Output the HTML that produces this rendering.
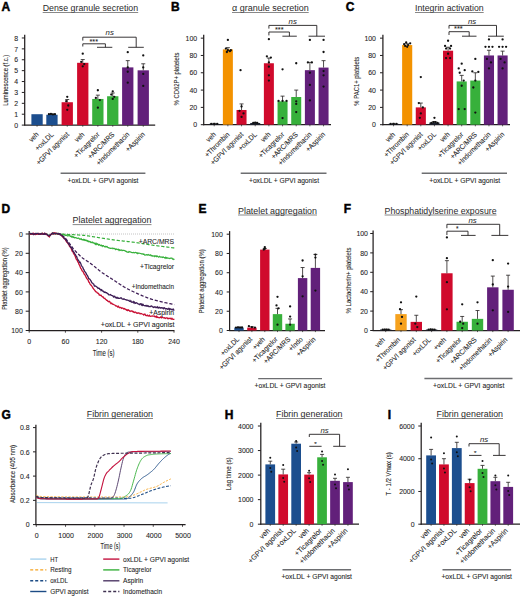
<!DOCTYPE html>
<html><head><meta charset="utf-8"><style>
html,body{margin:0;padding:0;background:#fff;}
svg{display:block;}
text{font-family:"Liberation Sans",sans-serif;}
</style></head><body>
<svg width="520" height="596" viewBox="0 0 520 596">
<rect width="520" height="596" fill="#fff"/>
<text x="1.50" y="11.00" font-size="12" font-weight="bold" fill="#000" stroke="#000" stroke-width="0.45">A</text>
<text x="42.70" y="11.00" font-size="8.9" font-weight="normal" fill="#2a2a2a" textLength="95.5" lengthAdjust="spacingAndGlyphs">Dense granule secretion</text>
<line x1="42.70" y1="12.50" x2="138.20" y2="12.50" stroke="#555" stroke-width="0.7"/>
<line x1="24.70" y1="125.60" x2="24.70" y2="34.80" stroke="#231f20" stroke-width="1.25"/>
<line x1="21.80" y1="125.10" x2="24.70" y2="125.10" stroke="#231f20" stroke-width="1.0"/>
<text x="18.20" y="127.80" font-size="7.5600000000000005" text-anchor="end" fill="#1e1e1e" transform="translate(18.20 127.80) scale(0.92 1) translate(-18.20 -127.80)" stroke="#1e1e1e" stroke-width="0.08">0</text>
<line x1="21.80" y1="114.21" x2="24.70" y2="114.21" stroke="#231f20" stroke-width="1.0"/>
<text x="18.20" y="116.91" font-size="7.5600000000000005" text-anchor="end" fill="#1e1e1e" transform="translate(18.20 116.91) scale(0.92 1) translate(-18.20 -116.91)" stroke="#1e1e1e" stroke-width="0.08">1</text>
<line x1="21.80" y1="103.32" x2="24.70" y2="103.32" stroke="#231f20" stroke-width="1.0"/>
<text x="18.20" y="106.02" font-size="7.5600000000000005" text-anchor="end" fill="#1e1e1e" transform="translate(18.20 106.02) scale(0.92 1) translate(-18.20 -106.02)" stroke="#1e1e1e" stroke-width="0.08">2</text>
<line x1="21.80" y1="92.43" x2="24.70" y2="92.43" stroke="#231f20" stroke-width="1.0"/>
<text x="18.20" y="95.13" font-size="7.5600000000000005" text-anchor="end" fill="#1e1e1e" transform="translate(18.20 95.13) scale(0.92 1) translate(-18.20 -95.13)" stroke="#1e1e1e" stroke-width="0.08">3</text>
<line x1="21.80" y1="81.54" x2="24.70" y2="81.54" stroke="#231f20" stroke-width="1.0"/>
<text x="18.20" y="84.24" font-size="7.5600000000000005" text-anchor="end" fill="#1e1e1e" transform="translate(18.20 84.24) scale(0.92 1) translate(-18.20 -84.24)" stroke="#1e1e1e" stroke-width="0.08">4</text>
<line x1="21.80" y1="70.65" x2="24.70" y2="70.65" stroke="#231f20" stroke-width="1.0"/>
<text x="18.20" y="73.35" font-size="7.5600000000000005" text-anchor="end" fill="#1e1e1e" transform="translate(18.20 73.35) scale(0.92 1) translate(-18.20 -73.35)" stroke="#1e1e1e" stroke-width="0.08">5</text>
<line x1="21.80" y1="59.76" x2="24.70" y2="59.76" stroke="#231f20" stroke-width="1.0"/>
<text x="18.20" y="62.46" font-size="7.5600000000000005" text-anchor="end" fill="#1e1e1e" transform="translate(18.20 62.46) scale(0.92 1) translate(-18.20 -62.46)" stroke="#1e1e1e" stroke-width="0.08">6</text>
<line x1="21.80" y1="48.87" x2="24.70" y2="48.87" stroke="#231f20" stroke-width="1.0"/>
<text x="18.20" y="51.57" font-size="7.5600000000000005" text-anchor="end" fill="#1e1e1e" transform="translate(18.20 51.57) scale(0.92 1) translate(-18.20 -51.57)" stroke="#1e1e1e" stroke-width="0.08">7</text>
<line x1="21.80" y1="37.98" x2="24.70" y2="37.98" stroke="#231f20" stroke-width="1.0"/>
<text x="18.20" y="40.68" font-size="7.5600000000000005" text-anchor="end" fill="#1e1e1e" transform="translate(18.20 40.68) scale(0.92 1) translate(-18.20 -40.68)" stroke="#1e1e1e" stroke-width="0.08">8</text>
<line x1="24.20" y1="125.10" x2="155.20" y2="125.10" stroke="#231f20" stroke-width="1.25"/>
<rect x="31.40" y="114.21" width="11.30" height="10.89" fill="#1c4e8e"/>
<rect x="46.30" y="114.75" width="11.30" height="10.35" fill="#1c4e8e"/>
<rect x="61.60" y="102.23" width="11.30" height="22.87" fill="#d00a2c"/>
<rect x="77.10" y="62.81" width="11.30" height="62.29" fill="#d00a2c"/>
<rect x="92.20" y="98.96" width="11.30" height="26.14" fill="#37b03b"/>
<rect x="107.10" y="96.24" width="11.30" height="28.86" fill="#37b03b"/>
<rect x="122.10" y="67.38" width="11.30" height="57.72" fill="#62207a"/>
<rect x="137.60" y="70.32" width="11.30" height="54.78" fill="#62207a"/>
<line x1="51.95" y1="114.75" x2="51.95" y2="114.21" stroke="#231f20" stroke-width="0.8"/>
<line x1="49.95" y1="114.21" x2="53.95" y2="114.21" stroke="#231f20" stroke-width="0.8"/>
<line x1="67.25" y1="102.23" x2="67.25" y2="99.51" stroke="#231f20" stroke-width="0.8"/>
<line x1="65.25" y1="99.51" x2="69.25" y2="99.51" stroke="#231f20" stroke-width="0.8"/>
<line x1="82.75" y1="62.81" x2="82.75" y2="59.54" stroke="#231f20" stroke-width="0.8"/>
<line x1="80.75" y1="59.54" x2="84.75" y2="59.54" stroke="#231f20" stroke-width="0.8"/>
<line x1="97.85" y1="98.96" x2="97.85" y2="95.15" stroke="#231f20" stroke-width="0.8"/>
<line x1="95.85" y1="95.15" x2="99.85" y2="95.15" stroke="#231f20" stroke-width="0.8"/>
<line x1="112.75" y1="96.24" x2="112.75" y2="92.97" stroke="#231f20" stroke-width="0.8"/>
<line x1="110.75" y1="92.97" x2="114.75" y2="92.97" stroke="#231f20" stroke-width="0.8"/>
<line x1="127.75" y1="67.38" x2="127.75" y2="60.63" stroke="#231f20" stroke-width="0.8"/>
<line x1="125.75" y1="60.63" x2="129.75" y2="60.63" stroke="#231f20" stroke-width="0.8"/>
<line x1="143.25" y1="70.32" x2="143.25" y2="63.79" stroke="#231f20" stroke-width="0.8"/>
<line x1="141.25" y1="63.79" x2="145.25" y2="63.79" stroke="#231f20" stroke-width="0.8"/>
<circle cx="48.95" cy="114.21" r="1.15" fill="#111"/>
<circle cx="50.95" cy="113.99" r="1.15" fill="#111"/>
<circle cx="52.95" cy="114.43" r="1.15" fill="#111"/>
<circle cx="54.95" cy="114.21" r="1.15" fill="#111"/>
<circle cx="67.25" cy="96.79" r="1.15" fill="#111"/>
<circle cx="66.25" cy="101.14" r="1.15" fill="#111"/>
<circle cx="68.25" cy="105.50" r="1.15" fill="#111"/>
<circle cx="67.25" cy="109.85" r="1.15" fill="#111"/>
<circle cx="82.75" cy="53.66" r="1.15" fill="#111"/>
<circle cx="81.25" cy="61.94" r="1.15" fill="#111"/>
<circle cx="84.25" cy="64.12" r="1.15" fill="#111"/>
<circle cx="82.75" cy="66.29" r="1.15" fill="#111"/>
<circle cx="97.85" cy="90.25" r="1.15" fill="#111"/>
<circle cx="95.85" cy="97.88" r="1.15" fill="#111"/>
<circle cx="99.85" cy="100.05" r="1.15" fill="#111"/>
<circle cx="97.85" cy="107.68" r="1.15" fill="#111"/>
<circle cx="112.75" cy="91.34" r="1.15" fill="#111"/>
<circle cx="111.25" cy="94.61" r="1.15" fill="#111"/>
<circle cx="114.25" cy="96.79" r="1.15" fill="#111"/>
<circle cx="112.75" cy="98.96" r="1.15" fill="#111"/>
<circle cx="127.75" cy="52.14" r="1.15" fill="#111"/>
<circle cx="127.75" cy="67.38" r="1.15" fill="#111"/>
<circle cx="127.75" cy="71.74" r="1.15" fill="#111"/>
<circle cx="127.75" cy="82.63" r="1.15" fill="#111"/>
<circle cx="143.25" cy="55.40" r="1.15" fill="#111"/>
<circle cx="143.25" cy="67.38" r="1.15" fill="#111"/>
<circle cx="143.25" cy="73.92" r="1.15" fill="#111"/>
<circle cx="143.25" cy="85.90" r="1.15" fill="#111"/>
<line x1="37.05" y1="125.10" x2="37.05" y2="126.70" stroke="#231f20" stroke-width="0.7"/>
<line x1="51.95" y1="125.10" x2="51.95" y2="126.70" stroke="#231f20" stroke-width="0.7"/>
<line x1="67.25" y1="125.10" x2="67.25" y2="126.70" stroke="#231f20" stroke-width="0.7"/>
<line x1="82.75" y1="125.10" x2="82.75" y2="126.70" stroke="#231f20" stroke-width="0.7"/>
<line x1="97.85" y1="125.10" x2="97.85" y2="126.70" stroke="#231f20" stroke-width="0.7"/>
<line x1="112.75" y1="125.10" x2="112.75" y2="126.70" stroke="#231f20" stroke-width="0.7"/>
<line x1="127.75" y1="125.10" x2="127.75" y2="126.70" stroke="#231f20" stroke-width="0.7"/>
<line x1="143.25" y1="125.10" x2="143.25" y2="126.70" stroke="#231f20" stroke-width="0.7"/>
<text x="39.25" y="135.00" font-size="7.25" text-anchor="end" fill="#1e1e1e" stroke="#1e1e1e" stroke-width="0.08" transform="rotate(-45 39.25 135.00) translate(39.25 135.00) scale(0.92 1) translate(-39.25 -135.00)">veh</text>
<text x="54.15" y="135.00" font-size="7.25" text-anchor="end" fill="#1e1e1e" stroke="#1e1e1e" stroke-width="0.08" transform="rotate(-45 54.15 135.00) translate(54.15 135.00) scale(0.92 1) translate(-54.15 -135.00)">+oxLDL</text>
<text x="69.45" y="135.00" font-size="7.25" text-anchor="end" fill="#1e1e1e" stroke="#1e1e1e" stroke-width="0.08" transform="rotate(-45 69.45 135.00) translate(69.45 135.00) scale(0.92 1) translate(-69.45 -135.00)">+GPVI agonist</text>
<text x="84.95" y="135.00" font-size="7.25" text-anchor="end" fill="#1e1e1e" stroke="#1e1e1e" stroke-width="0.08" transform="rotate(-45 84.95 135.00) translate(84.95 135.00) scale(0.92 1) translate(-84.95 -135.00)">veh</text>
<text x="100.05" y="135.00" font-size="7.25" text-anchor="end" fill="#1e1e1e" stroke="#1e1e1e" stroke-width="0.08" transform="rotate(-45 100.05 135.00) translate(100.05 135.00) scale(0.92 1) translate(-100.05 -135.00)">+Ticagrelor</text>
<text x="114.95" y="135.00" font-size="7.25" text-anchor="end" fill="#1e1e1e" stroke="#1e1e1e" stroke-width="0.08" transform="rotate(-45 114.95 135.00) translate(114.95 135.00) scale(0.92 1) translate(-114.95 -135.00)">+ARC/MRS</text>
<text x="129.95" y="135.00" font-size="7.25" text-anchor="end" fill="#1e1e1e" stroke="#1e1e1e" stroke-width="0.08" transform="rotate(-45 129.95 135.00) translate(129.95 135.00) scale(0.92 1) translate(-129.95 -135.00)">+Indomethacin</text>
<text x="145.45" y="135.00" font-size="7.25" text-anchor="end" fill="#1e1e1e" stroke="#1e1e1e" stroke-width="0.08" transform="rotate(-45 145.45 135.00) translate(145.45 135.00) scale(0.92 1) translate(-145.45 -135.00)">+Aspirin</text>
<line x1="60.60" y1="173.20" x2="145.40" y2="173.20" stroke="#6d6e71" stroke-width="1.5"/>
<text x="103.00" y="182.80" font-size="6.8" text-anchor="middle" fill="#1e1e1e" textLength="71" lengthAdjust="spacingAndGlyphs" stroke="#1e1e1e" stroke-width="0.08">+oxLDL + GPVI agonist</text>
<path d="M82.8,40.6 V37.2 H136.2 V47.3" stroke="#231f20" stroke-width="0.9" fill="none"/>
<text x="109.70" y="35.00" font-size="7.8" text-anchor="middle" font-weight="normal" font-style="italic" fill="#1e1e1e">ns</text>
<path d="M82.8,46.5 V43.8 H105.4 V47.3" stroke="#231f20" stroke-width="0.9" fill="none"/>
<text x="93.80" y="43.60" font-size="7.4" text-anchor="middle" fill="#1e1e1e" stroke="#1e1e1e" stroke-width="0.08">***</text>
<line x1="97.00" y1="47.30" x2="112.30" y2="47.30" stroke="#231f20" stroke-width="0.9"/>
<line x1="128.20" y1="47.30" x2="143.80" y2="47.30" stroke="#231f20" stroke-width="0.9"/>
<text x="8.40" y="80.20" font-size="6.8" text-anchor="middle" fill="#1e1e1e" transform="rotate(-90 8.40 80.20)" textLength="51" lengthAdjust="spacingAndGlyphs" stroke="#1e1e1e" stroke-width="0.08">Luminescence (f.c.)</text>
<text x="171.00" y="11.00" font-size="12" font-weight="bold" fill="#000" stroke="#000" stroke-width="0.45">B</text>
<text x="232.00" y="11.00" font-size="8.9" font-weight="normal" fill="#2a2a2a" textLength="76.7" lengthAdjust="spacingAndGlyphs">α granule secretion</text>
<line x1="232.00" y1="12.50" x2="308.70" y2="12.50" stroke="#555" stroke-width="0.7"/>
<line x1="203.70" y1="125.20" x2="203.70" y2="34.70" stroke="#231f20" stroke-width="1.25"/>
<line x1="200.80" y1="124.70" x2="203.70" y2="124.70" stroke="#231f20" stroke-width="1.0"/>
<text x="197.20" y="127.40" font-size="7.5600000000000005" text-anchor="end" fill="#1e1e1e" transform="translate(197.20 127.40) scale(0.92 1) translate(-197.20 -127.40)" stroke="#1e1e1e" stroke-width="0.08">0</text>
<line x1="200.80" y1="107.39" x2="203.70" y2="107.39" stroke="#231f20" stroke-width="1.0"/>
<text x="197.20" y="110.09" font-size="7.5600000000000005" text-anchor="end" fill="#1e1e1e" transform="translate(197.20 110.09) scale(0.92 1) translate(-197.20 -110.09)" stroke="#1e1e1e" stroke-width="0.08">20</text>
<line x1="200.80" y1="90.08" x2="203.70" y2="90.08" stroke="#231f20" stroke-width="1.0"/>
<text x="197.20" y="92.78" font-size="7.5600000000000005" text-anchor="end" fill="#1e1e1e" transform="translate(197.20 92.78) scale(0.92 1) translate(-197.20 -92.78)" stroke="#1e1e1e" stroke-width="0.08">40</text>
<line x1="200.80" y1="72.77" x2="203.70" y2="72.77" stroke="#231f20" stroke-width="1.0"/>
<text x="197.20" y="75.47" font-size="7.5600000000000005" text-anchor="end" fill="#1e1e1e" transform="translate(197.20 75.47) scale(0.92 1) translate(-197.20 -75.47)" stroke="#1e1e1e" stroke-width="0.08">60</text>
<line x1="200.80" y1="55.46" x2="203.70" y2="55.46" stroke="#231f20" stroke-width="1.0"/>
<text x="197.20" y="58.16" font-size="7.5600000000000005" text-anchor="end" fill="#1e1e1e" transform="translate(197.20 58.16) scale(0.92 1) translate(-197.20 -58.16)" stroke="#1e1e1e" stroke-width="0.08">80</text>
<line x1="200.80" y1="38.15" x2="203.70" y2="38.15" stroke="#231f20" stroke-width="1.0"/>
<text x="197.20" y="40.85" font-size="7.5600000000000005" text-anchor="end" fill="#1e1e1e" transform="translate(197.20 40.85) scale(0.92 1) translate(-197.20 -40.85)" stroke="#1e1e1e" stroke-width="0.08">100</text>
<line x1="203.20" y1="124.70" x2="331.00" y2="124.70" stroke="#231f20" stroke-width="1.25"/>
<rect x="209.20" y="123.83" width="10.00" height="0.87" fill="#1d2333"/>
<rect x="222.87" y="49.40" width="10.00" height="75.30" fill="#f39200"/>
<rect x="236.54" y="109.99" width="10.00" height="14.71" fill="#d00a2c"/>
<rect x="250.21" y="122.97" width="10.00" height="1.73" fill="#1d2333"/>
<rect x="263.88" y="63.25" width="10.00" height="61.45" fill="#d00a2c"/>
<rect x="277.55" y="101.33" width="10.00" height="23.37" fill="#37b03b"/>
<rect x="291.22" y="97.00" width="10.00" height="27.70" fill="#37b03b"/>
<rect x="304.89" y="70.17" width="10.00" height="54.53" fill="#62207a"/>
<rect x="318.56" y="67.58" width="10.00" height="57.12" fill="#62207a"/>
<line x1="214.20" y1="123.83" x2="214.20" y2="123.40" stroke="#231f20" stroke-width="0.8"/>
<line x1="212.20" y1="123.40" x2="216.20" y2="123.40" stroke="#231f20" stroke-width="0.8"/>
<line x1="227.87" y1="49.40" x2="227.87" y2="47.67" stroke="#231f20" stroke-width="0.8"/>
<line x1="225.87" y1="47.67" x2="229.87" y2="47.67" stroke="#231f20" stroke-width="0.8"/>
<line x1="241.54" y1="109.99" x2="241.54" y2="103.93" stroke="#231f20" stroke-width="0.8"/>
<line x1="239.54" y1="103.93" x2="243.54" y2="103.93" stroke="#231f20" stroke-width="0.8"/>
<line x1="255.21" y1="122.97" x2="255.21" y2="122.45" stroke="#231f20" stroke-width="0.8"/>
<line x1="253.21" y1="122.45" x2="257.21" y2="122.45" stroke="#231f20" stroke-width="0.8"/>
<line x1="268.88" y1="63.25" x2="268.88" y2="58.06" stroke="#231f20" stroke-width="0.8"/>
<line x1="266.88" y1="58.06" x2="270.88" y2="58.06" stroke="#231f20" stroke-width="0.8"/>
<line x1="282.55" y1="101.33" x2="282.55" y2="96.14" stroke="#231f20" stroke-width="0.8"/>
<line x1="280.55" y1="96.14" x2="284.55" y2="96.14" stroke="#231f20" stroke-width="0.8"/>
<line x1="296.22" y1="97.00" x2="296.22" y2="90.08" stroke="#231f20" stroke-width="0.8"/>
<line x1="294.22" y1="90.08" x2="298.22" y2="90.08" stroke="#231f20" stroke-width="0.8"/>
<line x1="309.89" y1="70.17" x2="309.89" y2="62.38" stroke="#231f20" stroke-width="0.8"/>
<line x1="307.89" y1="62.38" x2="311.89" y2="62.38" stroke="#231f20" stroke-width="0.8"/>
<line x1="323.56" y1="67.58" x2="323.56" y2="60.65" stroke="#231f20" stroke-width="0.8"/>
<line x1="321.56" y1="60.65" x2="325.56" y2="60.65" stroke="#231f20" stroke-width="0.8"/>
<circle cx="211.20" cy="123.83" r="1.15" fill="#111"/>
<circle cx="214.20" cy="123.83" r="1.15" fill="#111"/>
<circle cx="217.20" cy="123.83" r="1.15" fill="#111"/>
<circle cx="227.87" cy="39.88" r="1.15" fill="#111"/>
<circle cx="225.87" cy="48.54" r="1.15" fill="#111"/>
<circle cx="227.87" cy="50.27" r="1.15" fill="#111"/>
<circle cx="229.87" cy="51.13" r="1.15" fill="#111"/>
<circle cx="226.87" cy="52.00" r="1.15" fill="#111"/>
<circle cx="230.87" cy="50.27" r="1.15" fill="#111"/>
<circle cx="240.54" cy="70.17" r="1.15" fill="#111"/>
<circle cx="241.54" cy="106.52" r="1.15" fill="#111"/>
<circle cx="239.54" cy="110.85" r="1.15" fill="#111"/>
<circle cx="243.54" cy="113.45" r="1.15" fill="#111"/>
<circle cx="241.54" cy="116.91" r="1.15" fill="#111"/>
<circle cx="253.21" cy="122.97" r="1.15" fill="#111"/>
<circle cx="257.21" cy="122.97" r="1.15" fill="#111"/>
<circle cx="255.21" cy="122.54" r="1.15" fill="#111"/>
<circle cx="268.88" cy="39.19" r="1.15" fill="#111"/>
<circle cx="266.88" cy="56.33" r="1.15" fill="#111"/>
<circle cx="270.88" cy="57.62" r="1.15" fill="#111"/>
<circle cx="268.88" cy="62.38" r="1.15" fill="#111"/>
<circle cx="268.88" cy="66.71" r="1.15" fill="#111"/>
<circle cx="268.88" cy="75.37" r="1.15" fill="#111"/>
<circle cx="268.88" cy="80.56" r="1.15" fill="#111"/>
<circle cx="282.55" cy="69.31" r="1.15" fill="#111"/>
<circle cx="278.55" cy="100.90" r="1.15" fill="#111"/>
<circle cx="282.55" cy="100.90" r="1.15" fill="#111"/>
<circle cx="286.55" cy="100.90" r="1.15" fill="#111"/>
<circle cx="282.55" cy="118.04" r="1.15" fill="#111"/>
<circle cx="296.22" cy="63.25" r="1.15" fill="#111"/>
<circle cx="296.22" cy="101.33" r="1.15" fill="#111"/>
<circle cx="296.22" cy="103.93" r="1.15" fill="#111"/>
<circle cx="296.22" cy="112.06" r="1.15" fill="#111"/>
<circle cx="309.89" cy="39.88" r="1.15" fill="#111"/>
<circle cx="307.89" cy="62.38" r="1.15" fill="#111"/>
<circle cx="311.89" cy="62.38" r="1.15" fill="#111"/>
<circle cx="309.89" cy="72.77" r="1.15" fill="#111"/>
<circle cx="309.89" cy="84.89" r="1.15" fill="#111"/>
<circle cx="309.89" cy="100.47" r="1.15" fill="#111"/>
<circle cx="323.56" cy="39.88" r="1.15" fill="#111"/>
<circle cx="323.56" cy="52.00" r="1.15" fill="#111"/>
<circle cx="323.56" cy="71.04" r="1.15" fill="#111"/>
<circle cx="323.56" cy="75.37" r="1.15" fill="#111"/>
<circle cx="323.56" cy="86.62" r="1.15" fill="#111"/>
<line x1="214.20" y1="124.70" x2="214.20" y2="126.30" stroke="#231f20" stroke-width="0.7"/>
<line x1="227.87" y1="124.70" x2="227.87" y2="126.30" stroke="#231f20" stroke-width="0.7"/>
<line x1="241.54" y1="124.70" x2="241.54" y2="126.30" stroke="#231f20" stroke-width="0.7"/>
<line x1="255.21" y1="124.70" x2="255.21" y2="126.30" stroke="#231f20" stroke-width="0.7"/>
<line x1="268.88" y1="124.70" x2="268.88" y2="126.30" stroke="#231f20" stroke-width="0.7"/>
<line x1="282.55" y1="124.70" x2="282.55" y2="126.30" stroke="#231f20" stroke-width="0.7"/>
<line x1="296.22" y1="124.70" x2="296.22" y2="126.30" stroke="#231f20" stroke-width="0.7"/>
<line x1="309.89" y1="124.70" x2="309.89" y2="126.30" stroke="#231f20" stroke-width="0.7"/>
<line x1="323.56" y1="124.70" x2="323.56" y2="126.30" stroke="#231f20" stroke-width="0.7"/>
<text x="216.40" y="135.00" font-size="7.25" text-anchor="end" fill="#1e1e1e" stroke="#1e1e1e" stroke-width="0.08" transform="rotate(-45 216.40 135.00) translate(216.40 135.00) scale(0.92 1) translate(-216.40 -135.00)">veh</text>
<text x="230.07" y="135.00" font-size="7.25" text-anchor="end" fill="#1e1e1e" stroke="#1e1e1e" stroke-width="0.08" transform="rotate(-45 230.07 135.00) translate(230.07 135.00) scale(0.92 1) translate(-230.07 -135.00)">+Thrombin</text>
<text x="243.74" y="135.00" font-size="7.25" text-anchor="end" fill="#1e1e1e" stroke="#1e1e1e" stroke-width="0.08" transform="rotate(-45 243.74 135.00) translate(243.74 135.00) scale(0.92 1) translate(-243.74 -135.00)">+GPVI agonist</text>
<text x="257.41" y="135.00" font-size="7.25" text-anchor="end" fill="#1e1e1e" stroke="#1e1e1e" stroke-width="0.08" transform="rotate(-45 257.41 135.00) translate(257.41 135.00) scale(0.92 1) translate(-257.41 -135.00)">+oxLDL</text>
<text x="271.08" y="135.00" font-size="7.25" text-anchor="end" fill="#1e1e1e" stroke="#1e1e1e" stroke-width="0.08" transform="rotate(-45 271.08 135.00) translate(271.08 135.00) scale(0.92 1) translate(-271.08 -135.00)">veh</text>
<text x="284.75" y="135.00" font-size="7.25" text-anchor="end" fill="#1e1e1e" stroke="#1e1e1e" stroke-width="0.08" transform="rotate(-45 284.75 135.00) translate(284.75 135.00) scale(0.92 1) translate(-284.75 -135.00)">+Ticagrelor</text>
<text x="298.42" y="135.00" font-size="7.25" text-anchor="end" fill="#1e1e1e" stroke="#1e1e1e" stroke-width="0.08" transform="rotate(-45 298.42 135.00) translate(298.42 135.00) scale(0.92 1) translate(-298.42 -135.00)">+ARC/MRS</text>
<text x="312.09" y="135.00" font-size="7.25" text-anchor="end" fill="#1e1e1e" stroke="#1e1e1e" stroke-width="0.08" transform="rotate(-45 312.09 135.00) translate(312.09 135.00) scale(0.92 1) translate(-312.09 -135.00)">+Indomethacin</text>
<text x="325.76" y="135.00" font-size="7.25" text-anchor="end" fill="#1e1e1e" stroke="#1e1e1e" stroke-width="0.08" transform="rotate(-45 325.76 135.00) translate(325.76 135.00) scale(0.92 1) translate(-325.76 -135.00)">+Aspirin</text>
<line x1="240.70" y1="173.20" x2="326.50" y2="173.20" stroke="#6d6e71" stroke-width="1.5"/>
<text x="284.00" y="182.80" font-size="6.8" text-anchor="middle" fill="#1e1e1e" textLength="70" lengthAdjust="spacingAndGlyphs" stroke="#1e1e1e" stroke-width="0.08">+oxLDL + GPVI agonist</text>
<path d="M268.9,28.6 V25.4 H316.8 V36.2" stroke="#231f20" stroke-width="0.9" fill="none"/>
<text x="292.70" y="23.60" font-size="7.8" text-anchor="middle" font-weight="normal" font-style="italic" fill="#1e1e1e">ns</text>
<path d="M268.9,35.4 V32 H289.4 V36.2" stroke="#231f20" stroke-width="0.9" fill="none"/>
<text x="279.30" y="31.60" font-size="7.4" text-anchor="middle" fill="#1e1e1e" stroke="#1e1e1e" stroke-width="0.08">***</text>
<line x1="282.40" y1="36.20" x2="296.80" y2="36.20" stroke="#231f20" stroke-width="0.9"/>
<line x1="308.50" y1="36.20" x2="325.00" y2="36.20" stroke="#231f20" stroke-width="0.9"/>
<text x="179.40" y="79.00" font-size="6.8" text-anchor="middle" fill="#1e1e1e" transform="rotate(-90 179.40 79.00)" textLength="53" lengthAdjust="spacingAndGlyphs" stroke="#1e1e1e" stroke-width="0.08">% CD62P+ platelets</text>
<text x="345.70" y="11.00" font-size="12" font-weight="bold" fill="#000" stroke="#000" stroke-width="0.45">C</text>
<text x="415.00" y="11.00" font-size="8.9" font-weight="normal" fill="#2a2a2a" textLength="68.7" lengthAdjust="spacingAndGlyphs">Integrin activation</text>
<line x1="415.00" y1="12.50" x2="483.70" y2="12.50" stroke="#555" stroke-width="0.7"/>
<line x1="382.90" y1="125.20" x2="382.90" y2="34.70" stroke="#231f20" stroke-width="1.25"/>
<line x1="380.00" y1="124.70" x2="382.90" y2="124.70" stroke="#231f20" stroke-width="1.0"/>
<text x="376.00" y="127.40" font-size="7.5600000000000005" text-anchor="end" fill="#1e1e1e" transform="translate(376.00 127.40) scale(0.92 1) translate(-376.00 -127.40)" stroke="#1e1e1e" stroke-width="0.08">0</text>
<line x1="380.00" y1="107.39" x2="382.90" y2="107.39" stroke="#231f20" stroke-width="1.0"/>
<text x="376.00" y="110.09" font-size="7.5600000000000005" text-anchor="end" fill="#1e1e1e" transform="translate(376.00 110.09) scale(0.92 1) translate(-376.00 -110.09)" stroke="#1e1e1e" stroke-width="0.08">20</text>
<line x1="380.00" y1="90.08" x2="382.90" y2="90.08" stroke="#231f20" stroke-width="1.0"/>
<text x="376.00" y="92.78" font-size="7.5600000000000005" text-anchor="end" fill="#1e1e1e" transform="translate(376.00 92.78) scale(0.92 1) translate(-376.00 -92.78)" stroke="#1e1e1e" stroke-width="0.08">40</text>
<line x1="380.00" y1="72.77" x2="382.90" y2="72.77" stroke="#231f20" stroke-width="1.0"/>
<text x="376.00" y="75.47" font-size="7.5600000000000005" text-anchor="end" fill="#1e1e1e" transform="translate(376.00 75.47) scale(0.92 1) translate(-376.00 -75.47)" stroke="#1e1e1e" stroke-width="0.08">60</text>
<line x1="380.00" y1="55.46" x2="382.90" y2="55.46" stroke="#231f20" stroke-width="1.0"/>
<text x="376.00" y="58.16" font-size="7.5600000000000005" text-anchor="end" fill="#1e1e1e" transform="translate(376.00 58.16) scale(0.92 1) translate(-376.00 -58.16)" stroke="#1e1e1e" stroke-width="0.08">80</text>
<line x1="380.00" y1="38.15" x2="382.90" y2="38.15" stroke="#231f20" stroke-width="1.0"/>
<text x="376.00" y="40.85" font-size="7.5600000000000005" text-anchor="end" fill="#1e1e1e" transform="translate(376.00 40.85) scale(0.92 1) translate(-376.00 -40.85)" stroke="#1e1e1e" stroke-width="0.08">100</text>
<line x1="382.40" y1="124.70" x2="510.00" y2="124.70" stroke="#231f20" stroke-width="1.25"/>
<rect x="388.50" y="123.83" width="10.10" height="0.87" fill="#1d2333"/>
<rect x="402.13" y="45.07" width="10.10" height="79.63" fill="#f39200"/>
<rect x="415.76" y="107.39" width="10.10" height="17.31" fill="#d00a2c"/>
<rect x="429.39" y="122.54" width="10.10" height="2.16" fill="#1d2333"/>
<rect x="443.02" y="50.70" width="10.10" height="74.00" fill="#d00a2c"/>
<rect x="456.65" y="81.42" width="10.10" height="43.28" fill="#37b03b"/>
<rect x="470.28" y="80.56" width="10.10" height="44.14" fill="#37b03b"/>
<rect x="483.91" y="55.46" width="10.10" height="69.24" fill="#62207a"/>
<rect x="497.54" y="55.46" width="10.10" height="69.24" fill="#62207a"/>
<line x1="393.55" y1="123.83" x2="393.55" y2="123.40" stroke="#231f20" stroke-width="0.8"/>
<line x1="391.55" y1="123.40" x2="395.55" y2="123.40" stroke="#231f20" stroke-width="0.8"/>
<line x1="407.18" y1="45.07" x2="407.18" y2="43.78" stroke="#231f20" stroke-width="0.8"/>
<line x1="405.18" y1="43.78" x2="409.18" y2="43.78" stroke="#231f20" stroke-width="0.8"/>
<line x1="420.81" y1="107.39" x2="420.81" y2="103.06" stroke="#231f20" stroke-width="0.8"/>
<line x1="418.81" y1="103.06" x2="422.81" y2="103.06" stroke="#231f20" stroke-width="0.8"/>
<line x1="434.44" y1="122.54" x2="434.44" y2="121.67" stroke="#231f20" stroke-width="0.8"/>
<line x1="432.44" y1="121.67" x2="436.44" y2="121.67" stroke="#231f20" stroke-width="0.8"/>
<line x1="448.07" y1="50.70" x2="448.07" y2="47.24" stroke="#231f20" stroke-width="0.8"/>
<line x1="446.07" y1="47.24" x2="450.07" y2="47.24" stroke="#231f20" stroke-width="0.8"/>
<line x1="461.70" y1="81.42" x2="461.70" y2="75.37" stroke="#231f20" stroke-width="0.8"/>
<line x1="459.70" y1="75.37" x2="463.70" y2="75.37" stroke="#231f20" stroke-width="0.8"/>
<line x1="475.33" y1="80.56" x2="475.33" y2="72.77" stroke="#231f20" stroke-width="0.8"/>
<line x1="473.33" y1="72.77" x2="477.33" y2="72.77" stroke="#231f20" stroke-width="0.8"/>
<line x1="488.96" y1="55.46" x2="488.96" y2="50.27" stroke="#231f20" stroke-width="0.8"/>
<line x1="486.96" y1="50.27" x2="490.96" y2="50.27" stroke="#231f20" stroke-width="0.8"/>
<line x1="502.59" y1="55.46" x2="502.59" y2="51.13" stroke="#231f20" stroke-width="0.8"/>
<line x1="500.59" y1="51.13" x2="504.59" y2="51.13" stroke="#231f20" stroke-width="0.8"/>
<circle cx="390.55" cy="123.83" r="1.15" fill="#111"/>
<circle cx="393.55" cy="123.83" r="1.15" fill="#111"/>
<circle cx="396.55" cy="123.83" r="1.15" fill="#111"/>
<circle cx="404.18" cy="44.21" r="1.15" fill="#111"/>
<circle cx="406.18" cy="42.48" r="1.15" fill="#111"/>
<circle cx="408.18" cy="45.07" r="1.15" fill="#111"/>
<circle cx="410.18" cy="43.34" r="1.15" fill="#111"/>
<circle cx="407.18" cy="46.80" r="1.15" fill="#111"/>
<circle cx="405.18" cy="45.94" r="1.15" fill="#111"/>
<circle cx="420.81" cy="77.10" r="1.15" fill="#111"/>
<circle cx="418.81" cy="103.06" r="1.15" fill="#111"/>
<circle cx="422.81" cy="107.39" r="1.15" fill="#111"/>
<circle cx="420.81" cy="113.45" r="1.15" fill="#111"/>
<circle cx="419.81" cy="117.78" r="1.15" fill="#111"/>
<circle cx="431.44" cy="122.97" r="1.15" fill="#111"/>
<circle cx="434.44" cy="117.78" r="1.15" fill="#111"/>
<circle cx="437.44" cy="122.97" r="1.15" fill="#111"/>
<circle cx="433.44" cy="122.10" r="1.15" fill="#111"/>
<circle cx="435.44" cy="122.10" r="1.15" fill="#111"/>
<circle cx="448.07" cy="40.75" r="1.15" fill="#111"/>
<circle cx="445.07" cy="45.94" r="1.15" fill="#111"/>
<circle cx="451.07" cy="45.94" r="1.15" fill="#111"/>
<circle cx="446.07" cy="48.54" r="1.15" fill="#111"/>
<circle cx="450.07" cy="48.54" r="1.15" fill="#111"/>
<circle cx="448.07" cy="53.73" r="1.15" fill="#111"/>
<circle cx="446.07" cy="58.06" r="1.15" fill="#111"/>
<circle cx="450.07" cy="58.06" r="1.15" fill="#111"/>
<circle cx="461.70" cy="63.68" r="1.15" fill="#111"/>
<circle cx="458.70" cy="68.44" r="1.15" fill="#111"/>
<circle cx="464.70" cy="70.17" r="1.15" fill="#111"/>
<circle cx="459.70" cy="72.77" r="1.15" fill="#111"/>
<circle cx="463.70" cy="80.56" r="1.15" fill="#111"/>
<circle cx="461.70" cy="85.75" r="1.15" fill="#111"/>
<circle cx="458.70" cy="109.12" r="1.15" fill="#111"/>
<circle cx="464.70" cy="109.12" r="1.15" fill="#111"/>
<circle cx="475.33" cy="58.92" r="1.15" fill="#111"/>
<circle cx="472.33" cy="71.47" r="1.15" fill="#111"/>
<circle cx="478.33" cy="71.90" r="1.15" fill="#111"/>
<circle cx="475.33" cy="80.56" r="1.15" fill="#111"/>
<circle cx="473.33" cy="87.48" r="1.15" fill="#111"/>
<circle cx="475.33" cy="112.58" r="1.15" fill="#111"/>
<circle cx="488.96" cy="39.45" r="1.15" fill="#111"/>
<circle cx="485.46" cy="46.80" r="1.15" fill="#111"/>
<circle cx="488.96" cy="46.80" r="1.15" fill="#111"/>
<circle cx="492.46" cy="46.80" r="1.15" fill="#111"/>
<circle cx="486.96" cy="58.92" r="1.15" fill="#111"/>
<circle cx="490.96" cy="62.38" r="1.15" fill="#111"/>
<circle cx="488.96" cy="68.44" r="1.15" fill="#111"/>
<circle cx="502.59" cy="39.45" r="1.15" fill="#111"/>
<circle cx="499.09" cy="46.80" r="1.15" fill="#111"/>
<circle cx="502.59" cy="46.80" r="1.15" fill="#111"/>
<circle cx="506.09" cy="46.80" r="1.15" fill="#111"/>
<circle cx="500.59" cy="58.92" r="1.15" fill="#111"/>
<circle cx="504.59" cy="62.38" r="1.15" fill="#111"/>
<circle cx="502.59" cy="68.44" r="1.15" fill="#111"/>
<line x1="393.55" y1="124.70" x2="393.55" y2="126.30" stroke="#231f20" stroke-width="0.7"/>
<line x1="407.18" y1="124.70" x2="407.18" y2="126.30" stroke="#231f20" stroke-width="0.7"/>
<line x1="420.81" y1="124.70" x2="420.81" y2="126.30" stroke="#231f20" stroke-width="0.7"/>
<line x1="434.44" y1="124.70" x2="434.44" y2="126.30" stroke="#231f20" stroke-width="0.7"/>
<line x1="448.07" y1="124.70" x2="448.07" y2="126.30" stroke="#231f20" stroke-width="0.7"/>
<line x1="461.70" y1="124.70" x2="461.70" y2="126.30" stroke="#231f20" stroke-width="0.7"/>
<line x1="475.33" y1="124.70" x2="475.33" y2="126.30" stroke="#231f20" stroke-width="0.7"/>
<line x1="488.96" y1="124.70" x2="488.96" y2="126.30" stroke="#231f20" stroke-width="0.7"/>
<line x1="502.59" y1="124.70" x2="502.59" y2="126.30" stroke="#231f20" stroke-width="0.7"/>
<text x="395.75" y="135.00" font-size="7.25" text-anchor="end" fill="#1e1e1e" stroke="#1e1e1e" stroke-width="0.08" transform="rotate(-45 395.75 135.00) translate(395.75 135.00) scale(0.92 1) translate(-395.75 -135.00)">veh</text>
<text x="409.38" y="135.00" font-size="7.25" text-anchor="end" fill="#1e1e1e" stroke="#1e1e1e" stroke-width="0.08" transform="rotate(-45 409.38 135.00) translate(409.38 135.00) scale(0.92 1) translate(-409.38 -135.00)">+Thrombin</text>
<text x="423.01" y="135.00" font-size="7.25" text-anchor="end" fill="#1e1e1e" stroke="#1e1e1e" stroke-width="0.08" transform="rotate(-45 423.01 135.00) translate(423.01 135.00) scale(0.92 1) translate(-423.01 -135.00)">+GPVI agonist</text>
<text x="436.64" y="135.00" font-size="7.25" text-anchor="end" fill="#1e1e1e" stroke="#1e1e1e" stroke-width="0.08" transform="rotate(-45 436.64 135.00) translate(436.64 135.00) scale(0.92 1) translate(-436.64 -135.00)">+oxLDL</text>
<text x="450.27" y="135.00" font-size="7.25" text-anchor="end" fill="#1e1e1e" stroke="#1e1e1e" stroke-width="0.08" transform="rotate(-45 450.27 135.00) translate(450.27 135.00) scale(0.92 1) translate(-450.27 -135.00)">veh</text>
<text x="463.90" y="135.00" font-size="7.25" text-anchor="end" fill="#1e1e1e" stroke="#1e1e1e" stroke-width="0.08" transform="rotate(-45 463.90 135.00) translate(463.90 135.00) scale(0.92 1) translate(-463.90 -135.00)">+Ticagrelor</text>
<text x="477.53" y="135.00" font-size="7.25" text-anchor="end" fill="#1e1e1e" stroke="#1e1e1e" stroke-width="0.08" transform="rotate(-45 477.53 135.00) translate(477.53 135.00) scale(0.92 1) translate(-477.53 -135.00)">+ARC/MRS</text>
<text x="491.16" y="135.00" font-size="7.25" text-anchor="end" fill="#1e1e1e" stroke="#1e1e1e" stroke-width="0.08" transform="rotate(-45 491.16 135.00) translate(491.16 135.00) scale(0.92 1) translate(-491.16 -135.00)">+Indomethacin</text>
<text x="504.79" y="135.00" font-size="7.25" text-anchor="end" fill="#1e1e1e" stroke="#1e1e1e" stroke-width="0.08" transform="rotate(-45 504.79 135.00) translate(504.79 135.00) scale(0.92 1) translate(-504.79 -135.00)">+Aspirin</text>
<line x1="421.70" y1="173.20" x2="507.00" y2="173.20" stroke="#6d6e71" stroke-width="1.5"/>
<text x="464.70" y="182.80" font-size="6.8" text-anchor="middle" fill="#1e1e1e" textLength="71" lengthAdjust="spacingAndGlyphs" stroke="#1e1e1e" stroke-width="0.08">+oxLDL + GPVI agonist</text>
<path d="M449,28.6 V25.4 H496.5 V36.2" stroke="#231f20" stroke-width="0.9" fill="none"/>
<text x="472.00" y="23.60" font-size="7.8" text-anchor="middle" font-weight="normal" font-style="italic" fill="#1e1e1e">ns</text>
<path d="M449,35 V31.7 H469.2 V36.2" stroke="#231f20" stroke-width="0.9" fill="none"/>
<text x="458.40" y="31.30" font-size="7.4" text-anchor="middle" fill="#1e1e1e" stroke="#1e1e1e" stroke-width="0.08">***</text>
<line x1="462.00" y1="36.20" x2="476.50" y2="36.20" stroke="#231f20" stroke-width="0.9"/>
<line x1="488.00" y1="36.20" x2="503.80" y2="36.20" stroke="#231f20" stroke-width="0.9"/>
<text x="358.60" y="81.20" font-size="6.8" text-anchor="middle" fill="#1e1e1e" transform="rotate(-90 358.60 81.20)" textLength="49" lengthAdjust="spacingAndGlyphs" stroke="#1e1e1e" stroke-width="0.08">% PAC1+ platelets</text>
<text x="1.50" y="213.20" font-size="12" font-weight="bold" fill="#000" stroke="#000" stroke-width="0.45">D</text>
<text x="72.60" y="223.10" font-size="8.9" font-weight="normal" fill="#2a2a2a" textLength="78.9" lengthAdjust="spacingAndGlyphs">Platelet aggregation</text>
<line x1="72.60" y1="224.60" x2="151.50" y2="224.60" stroke="#555" stroke-width="0.7"/>
<line x1="29.20" y1="331.00" x2="29.20" y2="231.00" stroke="#231f20" stroke-width="1.25"/>
<line x1="25.70" y1="234.00" x2="29.20" y2="234.00" stroke="#231f20" stroke-width="1.0"/>
<text x="22.80" y="236.70" font-size="7.5600000000000005" text-anchor="end" fill="#1e1e1e" transform="translate(22.80 236.70) scale(0.92 1) translate(-22.80 -236.70)" stroke="#1e1e1e" stroke-width="0.08">0</text>
<line x1="25.70" y1="253.30" x2="29.20" y2="253.30" stroke="#231f20" stroke-width="1.0"/>
<text x="22.80" y="256.00" font-size="7.5600000000000005" text-anchor="end" fill="#1e1e1e" transform="translate(22.80 256.00) scale(0.92 1) translate(-22.80 -256.00)" stroke="#1e1e1e" stroke-width="0.08">20</text>
<line x1="25.70" y1="272.60" x2="29.20" y2="272.60" stroke="#231f20" stroke-width="1.0"/>
<text x="22.80" y="275.30" font-size="7.5600000000000005" text-anchor="end" fill="#1e1e1e" transform="translate(22.80 275.30) scale(0.92 1) translate(-22.80 -275.30)" stroke="#1e1e1e" stroke-width="0.08">40</text>
<line x1="25.70" y1="291.90" x2="29.20" y2="291.90" stroke="#231f20" stroke-width="1.0"/>
<text x="22.80" y="294.60" font-size="7.5600000000000005" text-anchor="end" fill="#1e1e1e" transform="translate(22.80 294.60) scale(0.92 1) translate(-22.80 -294.60)" stroke="#1e1e1e" stroke-width="0.08">60</text>
<line x1="25.70" y1="311.20" x2="29.20" y2="311.20" stroke="#231f20" stroke-width="1.0"/>
<text x="22.80" y="313.90" font-size="7.5600000000000005" text-anchor="end" fill="#1e1e1e" transform="translate(22.80 313.90) scale(0.92 1) translate(-22.80 -313.90)" stroke="#1e1e1e" stroke-width="0.08">80</text>
<line x1="25.70" y1="330.50" x2="29.20" y2="330.50" stroke="#231f20" stroke-width="1.0"/>
<text x="22.80" y="333.20" font-size="7.5600000000000005" text-anchor="end" fill="#1e1e1e" transform="translate(22.80 333.20) scale(0.92 1) translate(-22.80 -333.20)" stroke="#1e1e1e" stroke-width="0.08">100</text>
<line x1="28.70" y1="330.50" x2="174.40" y2="330.50" stroke="#231f20" stroke-width="1.25"/>
<line x1="29.20" y1="330.50" x2="29.20" y2="332.70" stroke="#231f20" stroke-width="0.8"/>
<text x="29.20" y="343.60" font-size="7" text-anchor="middle" fill="#1e1e1e" stroke="#1e1e1e" stroke-width="0.08">0</text>
<line x1="65.40" y1="330.50" x2="65.40" y2="332.70" stroke="#231f20" stroke-width="0.8"/>
<text x="65.40" y="343.60" font-size="7" text-anchor="middle" fill="#1e1e1e" stroke="#1e1e1e" stroke-width="0.08">60</text>
<line x1="101.60" y1="330.50" x2="101.60" y2="332.70" stroke="#231f20" stroke-width="0.8"/>
<text x="101.60" y="343.60" font-size="7" text-anchor="middle" fill="#1e1e1e" stroke="#1e1e1e" stroke-width="0.08">120</text>
<line x1="137.80" y1="330.50" x2="137.80" y2="332.70" stroke="#231f20" stroke-width="0.8"/>
<text x="137.80" y="343.60" font-size="7" text-anchor="middle" fill="#1e1e1e" stroke="#1e1e1e" stroke-width="0.08">180</text>
<line x1="174.00" y1="330.50" x2="174.00" y2="332.70" stroke="#231f20" stroke-width="0.8"/>
<text x="174.00" y="343.60" font-size="7" text-anchor="middle" fill="#1e1e1e" stroke="#1e1e1e" stroke-width="0.08">240</text>
<text x="103.60" y="355.60" font-size="9.0" text-anchor="middle" fill="#1e1e1e" textLength="21.8" lengthAdjust="spacingAndGlyphs" stroke="#1e1e1e" stroke-width="0.08">Time (s)</text>
<line x1="29.20" y1="234.00" x2="175.00" y2="234.00" stroke="#999" stroke-width="0.7" stroke-dasharray="0.8,1.2"/>
<text x="6.90" y="278.60" font-size="6.9" text-anchor="middle" fill="#1e1e1e" transform="rotate(-90 6.90 278.60)" textLength="62.4" lengthAdjust="spacingAndGlyphs" stroke="#1e1e1e" stroke-width="0.08">Platelet aggregation (%)</text>
<path d="M29.20,234.00L29.71,233.99L30.23,233.98L30.74,233.97L31.26,233.96L31.77,233.94L32.29,233.93L32.80,233.92L33.31,233.91L33.83,233.89L34.34,233.88L34.86,233.87L35.37,233.86L35.89,233.85L36.40,233.84L36.91,233.83L37.43,233.82L37.94,233.81L38.46,233.81L38.97,233.80L39.49,233.80L40.00,233.80L40.50,233.80L41.00,233.80L41.50,233.80L42.00,233.81L42.50,233.81L43.00,233.83L43.50,233.84L44.00,233.86L44.50,233.88L45.00,233.92L45.50,233.95L46.00,234.00L46.58,234.21L47.15,234.63L47.72,235.14L48.30,235.60L48.80,236.04L49.30,236.30L49.85,235.60L50.40,234.60L50.93,234.07L51.47,233.70L52.00,233.50L52.50,233.42L53.00,233.36L53.50,233.33L54.00,233.31L54.50,233.30L55.00,233.30L55.50,233.33L56.00,233.40L56.50,233.51L57.00,233.62L57.50,233.72L58.00,233.80L58.50,233.86L59.00,233.91L59.50,233.95L60.00,234.00L60.50,234.03L61.00,234.07L61.50,234.10L62.00,234.13L62.50,234.16L63.00,234.19L63.50,234.21L64.00,234.24L64.50,234.27L65.00,234.30L65.50,234.33L66.00,234.36L66.50,234.39L67.00,234.41L67.50,234.44L68.00,234.46L68.50,234.48L69.00,234.51L69.50,234.53L70.00,234.55L70.50,234.58L71.00,234.60L71.50,234.62L72.00,234.65L72.50,234.67L73.00,234.69L73.50,234.72L74.00,234.74L74.50,234.77L75.00,234.80L75.51,234.83L76.02,234.86L76.53,234.88L77.04,234.91L77.56,234.93L78.07,234.96L78.58,234.99L79.09,235.01L79.60,235.04L80.11,235.07L80.62,235.10L81.13,235.14L81.64,235.17L82.16,235.21L82.67,235.25L83.18,235.30L83.69,235.35L84.20,235.40L84.71,235.46L85.22,235.52L85.73,235.58L86.24,235.65L86.76,235.72L87.27,235.79L87.78,235.86L88.29,235.93L88.80,236.01L89.31,236.09L89.82,236.17L90.33,236.25L90.84,236.33L91.36,236.42L91.87,236.50L92.38,236.59L92.89,236.67L93.40,236.76L93.91,236.84L94.42,236.93L94.93,237.01L95.44,237.09L95.96,237.18L96.47,237.26L96.98,237.34L97.49,237.42L98.00,237.50L98.51,237.58L99.03,237.66L99.54,237.74L100.05,237.82L100.56,237.90L101.08,237.98L101.59,238.06L102.10,238.14L102.61,238.22L103.12,238.30L103.64,238.38L104.15,238.46L104.66,238.54L105.17,238.62L105.69,238.70L106.20,238.78L106.71,238.86L107.23,238.94L107.74,239.02L108.25,239.10L108.76,239.18L109.28,239.26L109.79,239.34L110.30,239.41L110.81,239.49L111.33,239.57L111.84,239.64L112.35,239.71L112.86,239.79L113.38,239.86L113.89,239.93L114.40,240.00L114.91,240.07L115.42,240.13L115.92,240.20L116.43,240.26L116.94,240.33L117.45,240.39L117.95,240.45L118.46,240.51L118.97,240.57L119.47,240.63L119.98,240.69L120.49,240.75L121.00,240.80L121.50,240.86L122.01,240.92L122.52,240.97L123.03,241.03L123.53,241.08L124.04,241.14L124.55,241.19L125.06,241.25L125.56,241.31L126.07,241.36L126.58,241.42L127.09,241.47L127.59,241.53L128.10,241.59L128.61,241.64L129.12,241.70L129.62,241.76L130.13,241.82L130.64,241.88L131.15,241.94L131.66,242.00L132.16,242.07L132.67,242.13L133.18,242.20L133.69,242.26L134.19,242.33L134.70,242.40L135.21,242.47L135.72,242.54L136.23,242.62L136.74,242.69L137.25,242.77L137.76,242.85L138.27,242.93L138.78,243.01L139.29,243.09L139.80,243.17L140.31,243.25L140.82,243.34L141.33,243.42L141.84,243.50L142.35,243.59L142.86,243.67L143.37,243.76L143.88,243.84L144.39,243.92L144.90,244.01L145.41,244.09L145.92,244.17L146.43,244.25L146.94,244.34L147.45,244.42L147.96,244.50L148.47,244.57L148.98,244.65L149.49,244.73L150.00,244.80L150.51,244.87L151.02,244.95L151.53,245.02L152.03,245.09L152.54,245.16L153.05,245.23L153.56,245.30L154.07,245.37L154.57,245.44L155.08,245.51L155.59,245.58L156.10,245.64L156.61,245.71L157.12,245.78L157.62,245.85L158.13,245.91L158.64,245.98L159.15,246.05L159.66,246.11L160.17,246.18L160.68,246.24L161.18,246.31L161.69,246.37L162.20,246.44L162.71,246.50L163.22,246.57L163.72,246.63L164.23,246.70L164.74,246.76L165.25,246.83L165.76,246.89L166.27,246.96L166.78,247.02L167.28,247.09L167.79,247.15L168.30,247.21L168.81,247.28L169.32,247.34L169.82,247.41L170.33,247.47L170.84,247.54L171.35,247.60L171.86,247.67L172.37,247.74L172.88,247.80L173.38,247.87L173.89,247.93L174.40,248.00" stroke="#37b03b" stroke-width="1.2" fill="none" stroke-dasharray="3.2,1.8"/>
<path d="M29.20,234.00L29.80,234.49L30.40,234.47L31.00,233.47L31.60,233.49L32.20,234.30L32.80,234.18L33.40,234.09L34.00,233.68L34.60,233.99L35.20,233.98L35.80,233.94L36.40,233.46L37.00,233.75L37.60,233.70L38.20,234.06L38.80,234.35L39.40,234.30L40.00,233.85L40.60,233.74L41.20,233.55L41.80,233.29L42.40,233.29L43.00,233.79L43.60,233.64L44.20,233.74L44.80,234.33L45.40,233.97L46.00,234.07L46.77,234.04L47.53,234.44L48.30,235.41L49.30,235.90L50.40,234.61L51.20,234.42L52.00,233.69L52.60,233.05L53.20,233.78L53.80,233.64L54.40,233.56L55.00,233.75L55.60,233.63L56.20,233.75L56.80,233.40L57.40,234.22L58.00,234.31L58.62,233.52L59.25,234.26L59.88,234.29L60.50,234.09L61.12,234.25L61.75,234.29L62.38,234.86L63.00,234.50L63.61,234.98L64.23,234.57L64.84,235.27L65.46,235.42L66.07,235.07L66.69,235.33L67.30,235.86L67.94,235.80L68.58,235.71L69.22,235.58L69.87,235.87L70.51,236.46L71.15,236.05L71.79,237.05L72.43,236.53L73.08,237.42L73.72,236.93L74.36,237.83L75.00,237.73L75.61,237.67L76.22,237.85L76.83,238.16L77.44,238.25L78.06,238.11L78.67,238.15L79.28,238.65L79.89,239.27L80.50,239.09L81.11,238.65L81.72,239.64L82.33,239.70L82.94,240.07L83.56,239.45L84.17,240.23L84.78,239.65L85.39,240.49L86.00,240.25L86.60,240.38L87.20,241.29L87.80,240.63L88.40,241.29L89.00,241.85L89.60,241.38L90.20,241.55L90.80,242.49L91.40,242.20L92.00,242.73L92.60,242.19L93.20,242.76L93.80,242.77L94.40,243.53L95.00,243.09L95.60,244.25L96.20,243.44L96.80,244.42L97.40,243.84L98.00,244.30L98.60,245.11L99.20,244.58L99.80,244.79L100.40,245.53L101.00,245.37L101.60,245.17L102.20,246.38L102.80,245.62L103.40,245.66L104.00,246.16L104.60,246.61L105.20,246.90L105.80,246.36L106.40,246.76L107.00,246.57L107.60,247.17L108.20,247.67L108.80,247.78L109.40,248.10L110.00,248.08L110.60,248.34L111.20,248.30L111.80,248.19L112.40,248.06L113.00,248.68L113.61,248.44L114.22,248.35L114.83,248.87L115.44,249.48L116.05,248.81L116.66,249.45L117.27,249.38L117.88,249.65L118.49,249.38L119.10,250.42L119.71,249.78L120.32,250.30L120.93,250.23L121.54,249.92L122.15,250.64L122.76,250.31L123.37,250.35L123.98,250.44L124.59,250.71L125.20,250.76L125.83,251.47L126.47,251.45L127.10,252.08L127.73,252.14L128.37,252.32L129.00,251.58L129.63,251.92L130.27,251.81L130.90,252.29L131.53,252.43L132.17,252.72L132.80,252.72L133.43,252.33L134.07,252.61L134.70,252.83L135.31,252.36L135.92,252.49L136.54,253.00L137.15,252.78L137.76,253.55L138.37,253.12L138.98,253.06L139.60,253.25L140.21,253.41L140.82,253.49L141.43,253.93L142.04,253.96L142.66,253.89L143.27,254.36L143.88,253.98L144.49,254.85L145.10,255.01L145.72,254.85L146.33,254.63L146.94,254.81L147.55,254.99L148.16,254.50L148.78,255.01L149.39,255.23L150.00,254.95L150.60,254.95L151.20,255.83L151.80,255.45L152.40,255.72L153.00,256.27L153.60,256.03L154.20,255.78L154.80,256.65L155.40,256.08L156.00,255.79L156.60,256.63L157.20,256.08L157.80,256.41L158.40,257.10L159.00,257.01L159.60,256.39L160.20,256.97L160.80,257.02L161.40,257.19L162.00,256.98L162.62,257.49L163.24,257.02L163.86,257.34L164.48,257.52L165.10,258.23L165.72,257.37L166.34,258.20L166.96,257.67L167.58,258.17L168.20,258.05L168.82,258.21L169.44,258.62L170.06,258.30L170.68,258.09L171.30,258.17L171.92,258.20L172.54,259.13L173.16,258.99L173.78,259.42L174.40,259.00" stroke="#37b03b" stroke-width="1.25" fill="none"/>
<path d="M29.20,234.00L29.71,233.99L30.23,233.98L30.74,233.97L31.26,233.96L31.77,233.94L32.29,233.93L32.80,233.92L33.31,233.91L33.83,233.89L34.34,233.88L34.86,233.87L35.37,233.86L35.89,233.85L36.40,233.84L36.91,233.83L37.43,233.82L37.94,233.81L38.46,233.81L38.97,233.80L39.49,233.80L40.00,233.80L40.50,233.80L41.00,233.80L41.50,233.80L42.00,233.81L42.50,233.81L43.00,233.83L43.50,233.84L44.00,233.86L44.50,233.88L45.00,233.92L45.50,233.95L46.00,234.00L46.58,234.21L47.15,234.63L47.72,235.14L48.30,235.60L48.80,236.04L49.30,236.30L49.85,235.60L50.40,234.60L50.93,234.07L51.47,233.70L52.00,233.50L52.50,233.42L53.00,233.36L53.50,233.33L54.00,233.31L54.50,233.30L55.00,233.30L55.50,233.32L56.00,233.36L56.50,233.44L57.00,233.54L57.50,233.66L58.00,233.80L58.50,233.95L59.00,234.11L59.50,234.28L60.00,234.47L60.50,234.69L61.00,234.92L61.50,235.19L62.00,235.50L62.50,235.84L63.00,236.21L63.50,236.60L64.00,237.03L64.50,237.48L65.00,237.96L65.50,238.47L66.00,239.00L66.50,239.56L67.00,240.16L67.50,240.79L68.00,241.44L68.50,242.11L69.00,242.79L69.50,243.49L70.00,244.19L70.50,244.89L71.00,245.59L71.50,246.29L72.00,246.97L72.50,247.64L73.00,248.28L73.50,248.91L74.00,249.50L74.50,250.07L75.00,250.64L75.50,251.19L76.00,251.73L76.50,252.27L77.00,252.79L77.50,253.31L78.00,253.81L78.50,254.31L79.00,254.79L79.50,255.27L80.00,255.73L80.50,256.19L81.00,256.64L81.50,257.07L82.00,257.50L82.50,257.91L83.00,258.30L83.50,258.67L84.00,259.03L84.50,259.37L85.00,259.71L85.50,260.03L86.00,260.35L86.50,260.67L87.00,260.98L87.50,261.30L88.00,261.62L88.50,261.95L89.00,262.29L89.50,262.64L90.00,263.00L90.51,263.38L91.02,263.77L91.53,264.16L92.03,264.56L92.54,264.97L93.05,265.38L93.56,265.79L94.07,266.21L94.58,266.63L95.09,267.05L95.60,267.47L96.10,267.89L96.61,268.31L97.12,268.72L97.63,269.14L98.14,269.55L98.65,269.96L99.16,270.37L99.67,270.77L100.17,271.16L100.68,271.55L101.19,271.93L101.70,272.30L102.21,272.67L102.73,273.03L103.24,273.39L103.75,273.74L104.27,274.09L104.78,274.43L105.29,274.77L105.80,275.10L106.32,275.44L106.83,275.77L107.34,276.09L107.86,276.42L108.37,276.74L108.88,277.07L109.40,277.39L109.91,277.71L110.42,278.04L110.93,278.36L111.45,278.68L111.96,279.01L112.47,279.34L112.99,279.67L113.50,280.00L114.01,280.33L114.52,280.67L115.03,281.01L115.53,281.35L116.04,281.69L116.55,282.03L117.06,282.38L117.57,282.72L118.08,283.06L118.59,283.41L119.10,283.75L119.60,284.09L120.11,284.43L120.62,284.76L121.13,285.09L121.64,285.42L122.15,285.75L122.66,286.07L123.17,286.39L123.67,286.70L124.18,287.01L124.69,287.31L125.20,287.60L125.71,287.89L126.23,288.18L126.74,288.46L127.25,288.73L127.77,289.00L128.28,289.27L128.79,289.53L129.30,289.79L129.82,290.05L130.33,290.30L130.84,290.55L131.36,290.80L131.87,291.05L132.38,291.29L132.90,291.53L133.41,291.77L133.92,292.00L134.43,292.24L134.95,292.47L135.46,292.71L135.97,292.94L136.49,293.17L137.00,293.40L137.50,293.62L138.00,293.85L138.50,294.07L139.00,294.29L139.50,294.51L140.00,294.73L140.50,294.95L141.00,295.17L141.50,295.39L142.00,295.60L142.50,295.81L143.00,296.02L143.50,296.23L144.00,296.44L144.50,296.64L145.00,296.84L145.50,297.04L146.00,297.24L146.50,297.43L147.00,297.62L147.50,297.81L148.00,297.99L148.50,298.18L149.00,298.35L149.50,298.53L150.00,298.70L150.50,298.87L151.00,299.03L151.50,299.19L152.00,299.34L152.50,299.49L153.00,299.64L153.50,299.78L154.00,299.92L154.50,300.06L155.00,300.19L155.50,300.32L156.00,300.45L156.50,300.58L157.00,300.70L157.50,300.83L158.00,300.95L158.50,301.07L159.00,301.20L159.50,301.32L160.00,301.44L160.50,301.56L161.00,301.68L161.50,301.80L162.02,301.92L162.53,302.05L163.05,302.17L163.56,302.29L164.08,302.40L164.60,302.52L165.11,302.63L165.63,302.75L166.14,302.86L166.66,302.97L167.18,303.08L167.69,303.19L168.21,303.30L168.72,303.40L169.24,303.51L169.76,303.62L170.27,303.73L170.79,303.84L171.30,303.94L171.82,304.05L172.34,304.16L172.85,304.27L173.37,304.38L173.88,304.49L174.40,304.60" stroke="#3d1d55" stroke-width="1.25" fill="none" stroke-dasharray="3.2,1.8"/>
<path d="M29.20,234.00L29.80,233.67L30.40,234.03L31.00,233.81L31.60,234.07L32.20,234.08L32.80,233.40L33.40,233.32L34.00,234.29L34.60,233.59L35.20,233.54L35.80,234.44L36.40,233.80L37.00,234.23L37.60,233.79L38.20,233.98L38.80,233.39L39.40,233.96L40.00,234.24L40.60,233.83L41.20,234.09L41.80,234.01L42.40,233.29L43.00,234.13L43.60,233.95L44.20,233.63L44.80,233.34L45.40,234.38L46.00,233.97L46.77,234.59L47.53,235.42L48.30,235.86L49.30,236.81L50.40,234.47L51.20,234.23L52.00,233.43L52.60,233.93L53.20,233.80L53.80,232.83L54.40,232.86L55.00,232.96L55.60,233.88L56.20,233.32L56.80,233.65L57.40,233.40L58.00,233.81L58.60,233.83L59.20,233.96L59.80,234.45L60.40,234.72L61.00,235.49L61.67,235.75L62.34,236.64L63.01,237.22L63.69,238.10L64.36,238.50L65.03,238.72L65.70,240.43L66.30,241.38L66.90,242.18L67.50,242.68L68.10,243.79L68.70,244.16L69.30,245.90L69.90,246.61L70.50,247.31L71.10,248.10L71.70,250.12L72.31,251.41L72.92,251.50L73.54,253.56L74.15,254.33L74.76,255.26L75.38,256.68L75.99,258.49L76.60,259.85L77.20,260.06L77.80,261.96L78.40,262.50L79.00,264.52L79.60,265.27L80.20,267.13L80.80,268.43L81.40,269.01L82.09,270.88L82.77,271.31L83.46,272.26L84.14,274.10L84.83,274.61L85.51,275.98L86.20,277.39L86.83,278.68L87.47,279.17L88.10,280.04L88.73,282.02L89.37,282.32L90.00,284.05L90.62,284.91L91.25,285.23L91.88,286.26L92.50,287.25L93.12,288.28L93.75,289.07L94.38,289.83L95.00,290.64L95.61,291.69L96.22,291.80L96.83,292.29L97.44,293.18L98.05,293.12L98.65,293.70L99.26,294.99L99.87,294.92L100.48,295.42L101.09,295.24L101.70,296.20L102.32,296.88L102.94,296.70L103.56,297.89L104.18,298.39L104.81,298.18L105.43,299.34L106.05,299.61L106.67,300.33L107.29,300.39L107.91,301.26L108.53,301.74L109.15,301.31L109.77,301.78L110.39,302.93L111.02,303.68L111.64,303.21L112.26,303.83L112.88,304.36L113.50,304.38L114.12,304.77L114.73,305.02L115.35,305.40L115.96,305.96L116.58,305.88L117.19,306.24L117.81,306.97L118.43,306.32L119.04,307.21L119.66,307.64L120.27,307.36L120.89,307.48L121.51,308.39L122.12,307.93L122.74,308.08L123.35,308.59L123.97,309.11L124.58,308.61L125.20,309.09L125.82,309.32L126.44,310.12L127.06,309.86L127.68,310.56L128.31,309.93L128.93,310.33L129.55,310.89L130.17,311.36L130.79,311.03L131.41,310.94L132.03,310.99L132.65,311.66L133.27,311.42L133.89,312.33L134.52,312.54L135.14,311.92L135.76,312.20L136.38,313.00L137.00,312.97L137.62,313.33L138.24,312.94L138.86,312.84L139.48,313.19L140.10,313.95L140.71,313.48L141.33,313.72L141.95,313.95L142.57,314.11L143.19,314.24L143.81,315.00L144.43,314.22L145.05,314.18L145.67,315.44L146.29,315.50L146.90,315.76L147.52,315.23L148.14,315.98L148.76,316.07L149.38,315.35L150.00,316.09L150.61,316.32L151.21,316.22L151.82,316.15L152.42,315.97L153.03,316.13L153.63,316.09L154.24,315.99L154.84,316.71L155.45,316.43L156.05,317.15L156.66,316.31L157.26,317.43L157.87,317.25L158.47,317.61L159.08,317.66L159.68,317.74L160.29,317.43L160.89,316.84L161.50,317.79L162.11,317.19L162.73,317.42L163.34,317.93L163.96,317.84L164.57,317.78L165.19,318.49L165.80,318.16L166.41,317.91L167.03,317.87L167.64,318.67L168.26,318.28L168.87,318.72L169.49,318.27L170.10,318.15L170.71,318.62L171.33,319.03L171.94,318.33L172.56,319.14L173.17,319.36L173.79,319.30L174.40,319.00" stroke="#c80f33" stroke-width="1.3" fill="none"/>
<path d="M29.20,234.00L29.80,233.67L30.40,233.50L31.00,233.84L31.60,233.53L32.20,233.41L32.80,233.80L33.40,234.41L34.00,234.25L34.60,234.19L35.20,233.53L35.80,233.89L36.40,233.57L37.00,233.43L37.60,233.34L38.20,233.47L38.80,234.32L39.40,234.20L40.00,234.17L40.60,234.16L41.20,233.43L41.80,233.58L42.40,233.97L43.00,234.10L43.60,234.27L44.20,234.32L44.80,233.41L45.40,234.07L46.00,234.21L46.77,234.34L47.53,234.58L48.30,235.57L49.30,235.81L50.40,235.12L51.20,234.31L52.00,233.56L52.60,233.16L53.20,233.83L53.80,233.40L54.40,233.76L55.00,233.72L55.60,233.33L56.20,233.29L56.80,233.62L57.40,233.56L58.00,233.39L58.60,233.73L59.20,234.52L59.80,233.81L60.40,234.09L61.00,235.15L61.67,235.25L62.33,236.14L63.00,236.72L63.67,237.27L64.33,238.81L65.00,238.63L65.62,239.67L66.25,240.22L66.88,241.58L67.50,242.02L68.12,243.02L68.75,244.41L69.38,244.83L70.00,246.07L70.60,247.42L71.20,247.42L71.80,248.36L72.40,249.56L73.00,251.22L73.60,252.06L74.20,252.63L74.80,253.77L75.40,254.61L76.00,255.95L76.60,256.45L77.20,258.22L77.80,259.44L78.40,260.49L79.00,261.20L79.60,262.46L80.20,262.33L80.80,263.67L81.40,265.51L82.00,266.33L82.67,267.11L83.33,269.01L84.00,269.91L84.67,271.42L85.33,272.05L86.00,273.13L86.67,274.59L87.33,275.37L88.00,276.78L88.67,278.55L89.33,278.82L90.00,279.41L90.62,280.32L91.25,281.32L91.88,282.87L92.50,283.14L93.12,283.80L93.75,284.26L94.38,285.98L95.00,285.91L95.61,286.18L96.22,286.49L96.83,286.93L97.44,287.47L98.05,288.46L98.65,288.19L99.26,288.40L99.87,289.27L100.48,289.32L101.09,290.55L101.70,289.85L102.32,290.70L102.94,291.36L103.56,291.28L104.18,292.34L104.81,292.09L105.43,292.16L106.05,292.72L106.67,292.62L107.29,293.43L107.91,293.56L108.53,294.67L109.15,294.92L109.77,294.84L110.39,294.58L111.02,295.15L111.64,295.42L112.26,295.65L112.88,295.93L113.50,296.94L114.12,296.29L114.73,296.39L115.35,297.63L115.96,297.37L116.58,298.03L117.19,297.47L117.81,298.20L118.43,298.03L119.04,298.32L119.66,298.38L120.27,298.20L120.89,297.83L121.51,298.09L122.12,299.01L122.74,299.17L123.35,299.33L123.97,298.77L124.58,299.32L125.20,299.66L125.82,299.66L126.44,300.06L127.06,299.92L127.68,300.29L128.31,300.55L128.93,300.27L129.55,301.28L130.17,301.55L130.79,300.73L131.41,302.04L132.03,302.26L132.65,302.14L133.27,301.62L133.89,302.87L134.52,302.16L135.14,303.38L135.76,303.22L136.38,302.69L137.00,303.00L137.62,303.74L138.24,303.83L138.86,304.21L139.48,304.60L140.10,303.91L140.71,303.81L141.33,305.06L141.95,304.12L142.57,305.31L143.19,304.54L143.81,305.51L144.43,305.62L145.05,305.87L145.67,305.61L146.29,306.13L146.90,305.44L147.52,306.13L148.14,305.84L148.76,306.64L149.38,306.61L150.00,306.37L150.61,306.54L151.21,306.04L151.82,306.15L152.42,306.92L153.03,306.89L153.63,307.42L154.24,307.20L154.84,306.72L155.45,307.07L156.05,307.63L156.66,307.41L157.26,306.87L157.87,307.94L158.47,308.00L159.08,307.19L159.68,307.82L160.29,307.70L160.89,308.26L161.50,307.77L162.11,307.76L162.73,308.15L163.34,308.81L163.96,307.84L164.57,307.95L165.19,308.64L165.80,309.04L166.41,308.67L167.03,308.66L167.64,309.25L168.26,309.23L168.87,308.46L169.49,309.51L170.10,308.77L170.71,308.98L171.33,309.70L171.94,309.28L172.56,309.82L173.17,309.14L173.79,310.07L174.40,309.70" stroke="#3d1d55" stroke-width="1.3" fill="none"/>
<text x="174.00" y="243.50" font-size="6.8" text-anchor="end" fill="#1e1e1e" stroke="#1e1e1e" stroke-width="0.08">+ARC/MRS</text>
<text x="174.00" y="269.10" font-size="6.8" text-anchor="end" fill="#1e1e1e" stroke="#1e1e1e" stroke-width="0.08">+Ticagrelor</text>
<text x="174.00" y="288.80" font-size="6.8" text-anchor="end" fill="#1e1e1e" textLength="42.3" lengthAdjust="spacingAndGlyphs" stroke="#1e1e1e" stroke-width="0.08">+Indomethacin</text>
<text x="174.00" y="314.60" font-size="6.8" text-anchor="end" fill="#1e1e1e" stroke="#1e1e1e" stroke-width="0.08">+Aspirin</text>
<text x="174.60" y="326.80" font-size="6.8" text-anchor="end" fill="#1e1e1e" textLength="73.8" lengthAdjust="spacingAndGlyphs" stroke="#1e1e1e" stroke-width="0.08">+oxLDL + GPVI agonist</text>
<text x="198.60" y="213.00" font-size="12" font-weight="bold" fill="#000" stroke="#000" stroke-width="0.45">E</text>
<text x="238.00" y="213.50" font-size="8.9" font-weight="normal" fill="#2a2a2a" textLength="79.0" lengthAdjust="spacingAndGlyphs">Platelet aggregation</text>
<line x1="238.00" y1="215.00" x2="317.00" y2="215.00" stroke="#555" stroke-width="0.7"/>
<line x1="229.60" y1="331.00" x2="229.60" y2="231.10" stroke="#231f20" stroke-width="1.25"/>
<line x1="226.70" y1="330.50" x2="229.60" y2="330.50" stroke="#231f20" stroke-width="1.0"/>
<text x="222.80" y="333.20" font-size="7.5600000000000005" text-anchor="end" fill="#1e1e1e" transform="translate(222.80 333.20) scale(0.92 1) translate(-222.80 -333.20)" stroke="#1e1e1e" stroke-width="0.08">0</text>
<line x1="226.70" y1="311.24" x2="229.60" y2="311.24" stroke="#231f20" stroke-width="1.0"/>
<text x="222.80" y="313.94" font-size="7.5600000000000005" text-anchor="end" fill="#1e1e1e" transform="translate(222.80 313.94) scale(0.92 1) translate(-222.80 -313.94)" stroke="#1e1e1e" stroke-width="0.08">20</text>
<line x1="226.70" y1="291.98" x2="229.60" y2="291.98" stroke="#231f20" stroke-width="1.0"/>
<text x="222.80" y="294.68" font-size="7.5600000000000005" text-anchor="end" fill="#1e1e1e" transform="translate(222.80 294.68) scale(0.92 1) translate(-222.80 -294.68)" stroke="#1e1e1e" stroke-width="0.08">40</text>
<line x1="226.70" y1="272.72" x2="229.60" y2="272.72" stroke="#231f20" stroke-width="1.0"/>
<text x="222.80" y="275.42" font-size="7.5600000000000005" text-anchor="end" fill="#1e1e1e" transform="translate(222.80 275.42) scale(0.92 1) translate(-222.80 -275.42)" stroke="#1e1e1e" stroke-width="0.08">60</text>
<line x1="226.70" y1="253.46" x2="229.60" y2="253.46" stroke="#231f20" stroke-width="1.0"/>
<text x="222.80" y="256.16" font-size="7.5600000000000005" text-anchor="end" fill="#1e1e1e" transform="translate(222.80 256.16) scale(0.92 1) translate(-222.80 -256.16)" stroke="#1e1e1e" stroke-width="0.08">80</text>
<line x1="226.70" y1="234.20" x2="229.60" y2="234.20" stroke="#231f20" stroke-width="1.0"/>
<text x="222.80" y="236.90" font-size="7.5600000000000005" text-anchor="end" fill="#1e1e1e" transform="translate(222.80 236.90) scale(0.92 1) translate(-222.80 -236.90)" stroke="#1e1e1e" stroke-width="0.08">100</text>
<line x1="229.10" y1="330.50" x2="325.00" y2="330.50" stroke="#231f20" stroke-width="1.25"/>
<rect x="234.30" y="327.61" width="9.40" height="2.89" fill="#1c4e8e"/>
<rect x="247.20" y="327.61" width="9.40" height="2.89" fill="#d00a2c"/>
<rect x="260.10" y="249.61" width="9.40" height="80.89" fill="#d00a2c"/>
<rect x="272.80" y="314.13" width="9.40" height="16.37" fill="#37b03b"/>
<rect x="285.40" y="323.76" width="9.40" height="6.74" fill="#37b03b"/>
<rect x="297.90" y="278.11" width="9.40" height="52.39" fill="#62207a"/>
<rect x="310.70" y="267.90" width="9.40" height="62.60" fill="#62207a"/>
<line x1="239.00" y1="327.61" x2="239.00" y2="327.13" stroke="#231f20" stroke-width="0.8"/>
<line x1="237.00" y1="327.13" x2="241.00" y2="327.13" stroke="#231f20" stroke-width="0.8"/>
<line x1="251.90" y1="327.61" x2="251.90" y2="326.84" stroke="#231f20" stroke-width="0.8"/>
<line x1="249.90" y1="326.84" x2="253.90" y2="326.84" stroke="#231f20" stroke-width="0.8"/>
<line x1="264.80" y1="249.61" x2="264.80" y2="248.45" stroke="#231f20" stroke-width="0.8"/>
<line x1="262.80" y1="248.45" x2="266.80" y2="248.45" stroke="#231f20" stroke-width="0.8"/>
<line x1="277.50" y1="314.13" x2="277.50" y2="308.35" stroke="#231f20" stroke-width="0.8"/>
<line x1="275.50" y1="308.35" x2="279.50" y2="308.35" stroke="#231f20" stroke-width="0.8"/>
<line x1="290.10" y1="323.76" x2="290.10" y2="318.94" stroke="#231f20" stroke-width="0.8"/>
<line x1="288.10" y1="318.94" x2="292.10" y2="318.94" stroke="#231f20" stroke-width="0.8"/>
<line x1="302.60" y1="278.11" x2="302.60" y2="267.52" stroke="#231f20" stroke-width="0.8"/>
<line x1="300.60" y1="267.52" x2="304.60" y2="267.52" stroke="#231f20" stroke-width="0.8"/>
<line x1="315.40" y1="267.90" x2="315.40" y2="254.42" stroke="#231f20" stroke-width="0.8"/>
<line x1="313.40" y1="254.42" x2="317.40" y2="254.42" stroke="#231f20" stroke-width="0.8"/>
<circle cx="236.00" cy="327.61" r="1.15" fill="#111"/>
<circle cx="238.00" cy="327.42" r="1.15" fill="#111"/>
<circle cx="240.00" cy="327.61" r="1.15" fill="#111"/>
<circle cx="242.00" cy="327.51" r="1.15" fill="#111"/>
<circle cx="248.90" cy="326.17" r="1.15" fill="#111"/>
<circle cx="251.90" cy="327.13" r="1.15" fill="#111"/>
<circle cx="254.90" cy="327.61" r="1.15" fill="#111"/>
<circle cx="264.80" cy="247.20" r="1.15" fill="#111"/>
<circle cx="264.80" cy="248.84" r="1.15" fill="#111"/>
<circle cx="263.80" cy="249.61" r="1.15" fill="#111"/>
<circle cx="277.50" cy="296.80" r="1.15" fill="#111"/>
<circle cx="276.50" cy="305.46" r="1.15" fill="#111"/>
<circle cx="278.50" cy="308.35" r="1.15" fill="#111"/>
<circle cx="277.50" cy="324.72" r="1.15" fill="#111"/>
<circle cx="290.10" cy="306.43" r="1.15" fill="#111"/>
<circle cx="290.10" cy="316.54" r="1.15" fill="#111"/>
<circle cx="290.10" cy="324.72" r="1.15" fill="#111"/>
<circle cx="302.60" cy="260.49" r="1.15" fill="#111"/>
<circle cx="302.60" cy="276.28" r="1.15" fill="#111"/>
<circle cx="302.60" cy="296.31" r="1.15" fill="#111"/>
<circle cx="315.40" cy="254.62" r="1.15" fill="#111"/>
<circle cx="315.40" cy="257.60" r="1.15" fill="#111"/>
<circle cx="315.40" cy="290.54" r="1.15" fill="#111"/>
<line x1="239.00" y1="330.50" x2="239.00" y2="332.10" stroke="#231f20" stroke-width="0.7"/>
<line x1="251.90" y1="330.50" x2="251.90" y2="332.10" stroke="#231f20" stroke-width="0.7"/>
<line x1="264.80" y1="330.50" x2="264.80" y2="332.10" stroke="#231f20" stroke-width="0.7"/>
<line x1="277.50" y1="330.50" x2="277.50" y2="332.10" stroke="#231f20" stroke-width="0.7"/>
<line x1="290.10" y1="330.50" x2="290.10" y2="332.10" stroke="#231f20" stroke-width="0.7"/>
<line x1="302.60" y1="330.50" x2="302.60" y2="332.10" stroke="#231f20" stroke-width="0.7"/>
<line x1="315.40" y1="330.50" x2="315.40" y2="332.10" stroke="#231f20" stroke-width="0.7"/>
<text x="239.70" y="339.80" font-size="7.25" text-anchor="end" fill="#1e1e1e" stroke="#1e1e1e" stroke-width="0.08" transform="rotate(-45 239.70 339.80) translate(239.70 339.80) scale(0.92 1) translate(-239.70 -339.80)">+oxLDL</text>
<text x="252.60" y="339.80" font-size="7.25" text-anchor="end" fill="#1e1e1e" stroke="#1e1e1e" stroke-width="0.08" transform="rotate(-45 252.60 339.80) translate(252.60 339.80) scale(0.92 1) translate(-252.60 -339.80)">+GPVI agonist</text>
<text x="265.50" y="339.80" font-size="7.25" text-anchor="end" fill="#1e1e1e" stroke="#1e1e1e" stroke-width="0.08" transform="rotate(-45 265.50 339.80) translate(265.50 339.80) scale(0.92 1) translate(-265.50 -339.80)">+veh</text>
<text x="278.20" y="339.80" font-size="7.25" text-anchor="end" fill="#1e1e1e" stroke="#1e1e1e" stroke-width="0.08" transform="rotate(-45 278.20 339.80) translate(278.20 339.80) scale(0.92 1) translate(-278.20 -339.80)">+Ticagrelor</text>
<text x="290.80" y="339.80" font-size="7.25" text-anchor="end" fill="#1e1e1e" stroke="#1e1e1e" stroke-width="0.08" transform="rotate(-45 290.80 339.80) translate(290.80 339.80) scale(0.92 1) translate(-290.80 -339.80)">+ARC/MRS</text>
<text x="303.30" y="339.80" font-size="7.25" text-anchor="end" fill="#1e1e1e" stroke="#1e1e1e" stroke-width="0.08" transform="rotate(-45 303.30 339.80) translate(303.30 339.80) scale(0.92 1) translate(-303.30 -339.80)">+Indo</text>
<text x="316.10" y="339.80" font-size="7.25" text-anchor="end" fill="#1e1e1e" stroke="#1e1e1e" stroke-width="0.08" transform="rotate(-45 316.10 339.80) translate(316.10 339.80) scale(0.92 1) translate(-316.10 -339.80)">+Aspirin</text>
<line x1="258.20" y1="378.60" x2="322.00" y2="378.60" stroke="#6d6e71" stroke-width="1.4"/>
<text x="290.00" y="387.60" font-size="6.8" text-anchor="middle" fill="#1e1e1e" textLength="71" lengthAdjust="spacingAndGlyphs" stroke="#1e1e1e" stroke-width="0.08">+oxLDL + GPVI agonist</text>
<text x="204.30" y="281.20" font-size="6.9" text-anchor="middle" fill="#1e1e1e" transform="rotate(-90 204.30 281.20)" textLength="64" lengthAdjust="spacingAndGlyphs" stroke="#1e1e1e" stroke-width="0.08">Platelet aggregation (%)</text>
<text x="343.80" y="213.00" font-size="12" font-weight="bold" fill="#000" stroke="#000" stroke-width="0.45">F</text>
<text x="384.60" y="213.50" font-size="8.9" font-weight="normal" fill="#2a2a2a" textLength="111.9" lengthAdjust="spacingAndGlyphs">Phosphatidylserine exposure</text>
<line x1="384.60" y1="215.00" x2="496.50" y2="215.00" stroke="#555" stroke-width="0.7"/>
<line x1="373.10" y1="331.00" x2="373.10" y2="230.50" stroke="#231f20" stroke-width="1.25"/>
<line x1="370.20" y1="330.50" x2="373.10" y2="330.50" stroke="#231f20" stroke-width="1.0"/>
<text x="368.00" y="333.20" font-size="7.5600000000000005" text-anchor="end" fill="#1e1e1e" transform="translate(368.00 333.20) scale(0.92 1) translate(-368.00 -333.20)" stroke="#1e1e1e" stroke-width="0.08">0</text>
<line x1="370.20" y1="311.10" x2="373.10" y2="311.10" stroke="#231f20" stroke-width="1.0"/>
<text x="368.00" y="313.80" font-size="7.5600000000000005" text-anchor="end" fill="#1e1e1e" transform="translate(368.00 313.80) scale(0.92 1) translate(-368.00 -313.80)" stroke="#1e1e1e" stroke-width="0.08">20</text>
<line x1="370.20" y1="291.70" x2="373.10" y2="291.70" stroke="#231f20" stroke-width="1.0"/>
<text x="368.00" y="294.40" font-size="7.5600000000000005" text-anchor="end" fill="#1e1e1e" transform="translate(368.00 294.40) scale(0.92 1) translate(-368.00 -294.40)" stroke="#1e1e1e" stroke-width="0.08">40</text>
<line x1="370.20" y1="272.30" x2="373.10" y2="272.30" stroke="#231f20" stroke-width="1.0"/>
<text x="368.00" y="275.00" font-size="7.5600000000000005" text-anchor="end" fill="#1e1e1e" transform="translate(368.00 275.00) scale(0.92 1) translate(-368.00 -275.00)" stroke="#1e1e1e" stroke-width="0.08">60</text>
<line x1="370.20" y1="252.90" x2="373.10" y2="252.90" stroke="#231f20" stroke-width="1.0"/>
<text x="368.00" y="255.60" font-size="7.5600000000000005" text-anchor="end" fill="#1e1e1e" transform="translate(368.00 255.60) scale(0.92 1) translate(-368.00 -255.60)" stroke="#1e1e1e" stroke-width="0.08">80</text>
<line x1="370.20" y1="233.50" x2="373.10" y2="233.50" stroke="#231f20" stroke-width="1.0"/>
<text x="368.00" y="236.20" font-size="7.5600000000000005" text-anchor="end" fill="#1e1e1e" transform="translate(368.00 236.20) scale(0.92 1) translate(-368.00 -236.20)" stroke="#1e1e1e" stroke-width="0.08">100</text>
<line x1="372.60" y1="330.50" x2="520.00" y2="330.50" stroke="#231f20" stroke-width="1.25"/>
<rect x="380.00" y="329.53" width="11.40" height="0.97" fill="#1d2333"/>
<rect x="395.30" y="314.11" width="11.40" height="16.39" fill="#f6a21e"/>
<rect x="410.60" y="321.87" width="11.40" height="8.63" fill="#d00a2c"/>
<rect x="425.90" y="329.53" width="11.40" height="0.97" fill="#1d2333"/>
<rect x="441.20" y="273.27" width="11.40" height="57.23" fill="#d00a2c"/>
<rect x="456.50" y="321.77" width="11.40" height="8.73" fill="#37b03b"/>
<rect x="471.80" y="318.86" width="11.40" height="11.64" fill="#37b03b"/>
<rect x="487.10" y="287.33" width="11.40" height="43.16" fill="#62207a"/>
<rect x="502.40" y="289.76" width="11.40" height="40.74" fill="#62207a"/>
<line x1="385.70" y1="329.53" x2="385.70" y2="329.24" stroke="#231f20" stroke-width="0.8"/>
<line x1="383.70" y1="329.24" x2="387.70" y2="329.24" stroke="#231f20" stroke-width="0.8"/>
<line x1="401.00" y1="314.11" x2="401.00" y2="309.64" stroke="#231f20" stroke-width="0.8"/>
<line x1="399.00" y1="309.64" x2="403.00" y2="309.64" stroke="#231f20" stroke-width="0.8"/>
<line x1="416.30" y1="321.87" x2="416.30" y2="315.27" stroke="#231f20" stroke-width="0.8"/>
<line x1="414.30" y1="315.27" x2="418.30" y2="315.27" stroke="#231f20" stroke-width="0.8"/>
<line x1="431.60" y1="329.53" x2="431.60" y2="329.24" stroke="#231f20" stroke-width="0.8"/>
<line x1="429.60" y1="329.24" x2="433.60" y2="329.24" stroke="#231f20" stroke-width="0.8"/>
<line x1="446.90" y1="273.27" x2="446.90" y2="260.66" stroke="#231f20" stroke-width="0.8"/>
<line x1="444.90" y1="260.66" x2="448.90" y2="260.66" stroke="#231f20" stroke-width="0.8"/>
<line x1="462.20" y1="321.77" x2="462.20" y2="316.44" stroke="#231f20" stroke-width="0.8"/>
<line x1="460.20" y1="316.44" x2="464.20" y2="316.44" stroke="#231f20" stroke-width="0.8"/>
<line x1="477.50" y1="318.86" x2="477.50" y2="310.52" stroke="#231f20" stroke-width="0.8"/>
<line x1="475.50" y1="310.52" x2="479.50" y2="310.52" stroke="#231f20" stroke-width="0.8"/>
<line x1="492.80" y1="287.33" x2="492.80" y2="276.08" stroke="#231f20" stroke-width="0.8"/>
<line x1="490.80" y1="276.08" x2="494.80" y2="276.08" stroke="#231f20" stroke-width="0.8"/>
<line x1="508.10" y1="289.76" x2="508.10" y2="275.21" stroke="#231f20" stroke-width="0.8"/>
<line x1="506.10" y1="275.21" x2="510.10" y2="275.21" stroke="#231f20" stroke-width="0.8"/>
<circle cx="382.70" cy="329.53" r="1.15" fill="#111"/>
<circle cx="384.70" cy="329.53" r="1.15" fill="#111"/>
<circle cx="386.70" cy="329.53" r="1.15" fill="#111"/>
<circle cx="388.70" cy="329.53" r="1.15" fill="#111"/>
<circle cx="401.00" cy="302.37" r="1.15" fill="#111"/>
<circle cx="400.00" cy="309.16" r="1.15" fill="#111"/>
<circle cx="402.00" cy="316.92" r="1.15" fill="#111"/>
<circle cx="401.00" cy="323.71" r="1.15" fill="#111"/>
<circle cx="416.30" cy="296.55" r="1.15" fill="#111"/>
<circle cx="415.30" cy="323.71" r="1.15" fill="#111"/>
<circle cx="417.30" cy="327.11" r="1.15" fill="#111"/>
<circle cx="428.60" cy="329.53" r="1.15" fill="#111"/>
<circle cx="430.60" cy="329.34" r="1.15" fill="#111"/>
<circle cx="432.60" cy="329.53" r="1.15" fill="#111"/>
<circle cx="434.60" cy="329.53" r="1.15" fill="#111"/>
<circle cx="446.90" cy="237.38" r="1.15" fill="#111"/>
<circle cx="446.90" cy="258.14" r="1.15" fill="#111"/>
<circle cx="446.90" cy="282.19" r="1.15" fill="#111"/>
<circle cx="446.90" cy="309.35" r="1.15" fill="#111"/>
<circle cx="462.20" cy="304.31" r="1.15" fill="#111"/>
<circle cx="460.20" cy="321.77" r="1.15" fill="#111"/>
<circle cx="463.20" cy="323.71" r="1.15" fill="#111"/>
<circle cx="462.20" cy="328.07" r="1.15" fill="#111"/>
<circle cx="477.50" cy="302.37" r="1.15" fill="#111"/>
<circle cx="477.50" cy="323.71" r="1.15" fill="#111"/>
<circle cx="492.80" cy="260.18" r="1.15" fill="#111"/>
<circle cx="492.80" cy="284.52" r="1.15" fill="#111"/>
<circle cx="492.80" cy="310.32" r="1.15" fill="#111"/>
<circle cx="508.10" cy="263.57" r="1.15" fill="#111"/>
<circle cx="508.10" cy="286.56" r="1.15" fill="#111"/>
<circle cx="508.10" cy="311.97" r="1.15" fill="#111"/>
<line x1="385.70" y1="330.50" x2="385.70" y2="332.10" stroke="#231f20" stroke-width="0.7"/>
<line x1="401.00" y1="330.50" x2="401.00" y2="332.10" stroke="#231f20" stroke-width="0.7"/>
<line x1="416.30" y1="330.50" x2="416.30" y2="332.10" stroke="#231f20" stroke-width="0.7"/>
<line x1="431.60" y1="330.50" x2="431.60" y2="332.10" stroke="#231f20" stroke-width="0.7"/>
<line x1="446.90" y1="330.50" x2="446.90" y2="332.10" stroke="#231f20" stroke-width="0.7"/>
<line x1="462.20" y1="330.50" x2="462.20" y2="332.10" stroke="#231f20" stroke-width="0.7"/>
<line x1="477.50" y1="330.50" x2="477.50" y2="332.10" stroke="#231f20" stroke-width="0.7"/>
<line x1="492.80" y1="330.50" x2="492.80" y2="332.10" stroke="#231f20" stroke-width="0.7"/>
<line x1="508.10" y1="330.50" x2="508.10" y2="332.10" stroke="#231f20" stroke-width="0.7"/>
<text x="385.40" y="340.30" font-size="7.25" text-anchor="end" fill="#1e1e1e" stroke="#1e1e1e" stroke-width="0.08" transform="rotate(-45 385.40 340.30) translate(385.40 340.30) scale(0.92 1) translate(-385.40 -340.30)">veh</text>
<text x="400.70" y="340.30" font-size="7.25" text-anchor="end" fill="#1e1e1e" stroke="#1e1e1e" stroke-width="0.08" transform="rotate(-45 400.70 340.30) translate(400.70 340.30) scale(0.92 1) translate(-400.70 -340.30)">+Thrombin</text>
<text x="416.00" y="340.30" font-size="7.25" text-anchor="end" fill="#1e1e1e" stroke="#1e1e1e" stroke-width="0.08" transform="rotate(-45 416.00 340.30) translate(416.00 340.30) scale(0.92 1) translate(-416.00 -340.30)">+GPVI agonist</text>
<text x="431.30" y="340.30" font-size="7.25" text-anchor="end" fill="#1e1e1e" stroke="#1e1e1e" stroke-width="0.08" transform="rotate(-45 431.30 340.30) translate(431.30 340.30) scale(0.92 1) translate(-431.30 -340.30)">+oxLDL</text>
<text x="446.60" y="340.30" font-size="7.25" text-anchor="end" fill="#1e1e1e" stroke="#1e1e1e" stroke-width="0.08" transform="rotate(-45 446.60 340.30) translate(446.60 340.30) scale(0.92 1) translate(-446.60 -340.30)">+veh</text>
<text x="461.90" y="340.30" font-size="7.25" text-anchor="end" fill="#1e1e1e" stroke="#1e1e1e" stroke-width="0.08" transform="rotate(-45 461.90 340.30) translate(461.90 340.30) scale(0.92 1) translate(-461.90 -340.30)">+Ticagrelor</text>
<text x="477.20" y="340.30" font-size="7.25" text-anchor="end" fill="#1e1e1e" stroke="#1e1e1e" stroke-width="0.08" transform="rotate(-45 477.20 340.30) translate(477.20 340.30) scale(0.92 1) translate(-477.20 -340.30)">+ARC/MRS</text>
<text x="492.50" y="340.30" font-size="7.25" text-anchor="end" fill="#1e1e1e" stroke="#1e1e1e" stroke-width="0.08" transform="rotate(-45 492.50 340.30) translate(492.50 340.30) scale(0.92 1) translate(-492.50 -340.30)">+Indomethacin</text>
<text x="507.80" y="340.30" font-size="7.25" text-anchor="end" fill="#1e1e1e" stroke="#1e1e1e" stroke-width="0.08" transform="rotate(-45 507.80 340.30) translate(507.80 340.30) scale(0.92 1) translate(-507.80 -340.30)">+Aspirin</text>
<line x1="424.40" y1="378.50" x2="512.50" y2="378.50" stroke="#6d6e71" stroke-width="1.4"/>
<text x="468.70" y="388.30" font-size="6.8" text-anchor="middle" fill="#1e1e1e" textLength="71.4" lengthAdjust="spacingAndGlyphs" stroke="#1e1e1e" stroke-width="0.08">+oxLDL + GPVI agonist</text>
<path d="M446.9,228.2 V224.3 H499.7 V235.4" stroke="#231f20" stroke-width="0.9" fill="none"/>
<text x="472.60" y="222.60" font-size="7.8" text-anchor="middle" font-weight="normal" font-style="italic" fill="#1e1e1e">ns</text>
<path d="M446.9,235 V231.2 H468 V235.4" stroke="#231f20" stroke-width="0.9" fill="none"/>
<text x="457.30" y="230.80" font-size="6.5" text-anchor="middle" fill="#1e1e1e" stroke="#1e1e1e" stroke-width="0.08">*</text>
<line x1="461.00" y1="235.40" x2="475.60" y2="235.40" stroke="#231f20" stroke-width="0.9"/>
<line x1="491.40" y1="235.40" x2="508.30" y2="235.40" stroke="#231f20" stroke-width="0.9"/>
<text x="350.60" y="280.40" font-size="6.9" text-anchor="middle" fill="#1e1e1e" transform="rotate(-90 350.60 280.40)" textLength="66" lengthAdjust="spacingAndGlyphs" stroke="#1e1e1e" stroke-width="0.08">% Lactadherin+ platelets</text>
<text x="1.50" y="419.20" font-size="12" font-weight="bold" fill="#000" stroke="#000" stroke-width="0.45">G</text>
<text x="86.80" y="417.00" font-size="8.9" font-weight="normal" fill="#2a2a2a" textLength="66.2" lengthAdjust="spacingAndGlyphs">Fibrin generation</text>
<line x1="86.80" y1="418.50" x2="153.00" y2="418.50" stroke="#555" stroke-width="0.7"/>
<line x1="35.90" y1="525.10" x2="35.90" y2="424.70" stroke="#231f20" stroke-width="1.25"/>
<line x1="33.00" y1="524.60" x2="35.90" y2="524.60" stroke="#231f20" stroke-width="1.0"/>
<text x="29.60" y="527.30" font-size="7.5600000000000005" text-anchor="end" fill="#1e1e1e" transform="translate(29.60 527.30) scale(0.92 1) translate(-29.60 -527.30)" stroke="#1e1e1e" stroke-width="0.08">0</text>
<line x1="33.00" y1="500.35" x2="35.90" y2="500.35" stroke="#231f20" stroke-width="1.0"/>
<text x="29.60" y="503.05" font-size="7.5600000000000005" text-anchor="end" fill="#1e1e1e" transform="translate(29.60 503.05) scale(0.92 1) translate(-29.60 -503.05)" stroke="#1e1e1e" stroke-width="0.08">0.2</text>
<line x1="33.00" y1="476.10" x2="35.90" y2="476.10" stroke="#231f20" stroke-width="1.0"/>
<text x="29.60" y="478.80" font-size="7.5600000000000005" text-anchor="end" fill="#1e1e1e" transform="translate(29.60 478.80) scale(0.92 1) translate(-29.60 -478.80)" stroke="#1e1e1e" stroke-width="0.08">0.4</text>
<line x1="33.00" y1="451.85" x2="35.90" y2="451.85" stroke="#231f20" stroke-width="1.0"/>
<text x="29.60" y="454.55" font-size="7.5600000000000005" text-anchor="end" fill="#1e1e1e" transform="translate(29.60 454.55) scale(0.92 1) translate(-29.60 -454.55)" stroke="#1e1e1e" stroke-width="0.08">0.6</text>
<line x1="33.00" y1="427.60" x2="35.90" y2="427.60" stroke="#231f20" stroke-width="1.0"/>
<text x="29.60" y="430.30" font-size="7.5600000000000005" text-anchor="end" fill="#1e1e1e" transform="translate(29.60 430.30) scale(0.92 1) translate(-29.60 -430.30)" stroke="#1e1e1e" stroke-width="0.08">0.8</text>
<line x1="35.40" y1="524.60" x2="185.60" y2="524.60" stroke="#231f20" stroke-width="1.25"/>
<line x1="36.30" y1="524.60" x2="36.30" y2="526.80" stroke="#231f20" stroke-width="0.8"/>
<text x="36.80" y="537.80" font-size="7" text-anchor="middle" fill="#1e1e1e" stroke="#1e1e1e" stroke-width="0.08">0</text>
<line x1="65.54" y1="524.60" x2="65.54" y2="526.80" stroke="#231f20" stroke-width="0.8"/>
<text x="66.04" y="537.80" font-size="7" text-anchor="middle" fill="#1e1e1e" stroke="#1e1e1e" stroke-width="0.08">1000</text>
<line x1="94.78" y1="524.60" x2="94.78" y2="526.80" stroke="#231f20" stroke-width="0.8"/>
<text x="95.28" y="537.80" font-size="7" text-anchor="middle" fill="#1e1e1e" stroke="#1e1e1e" stroke-width="0.08">2000</text>
<line x1="124.02" y1="524.60" x2="124.02" y2="526.80" stroke="#231f20" stroke-width="0.8"/>
<text x="124.52" y="537.80" font-size="7" text-anchor="middle" fill="#1e1e1e" stroke="#1e1e1e" stroke-width="0.08">3000</text>
<line x1="153.26" y1="524.60" x2="153.26" y2="526.80" stroke="#231f20" stroke-width="0.8"/>
<text x="153.76" y="537.80" font-size="7" text-anchor="middle" fill="#1e1e1e" stroke="#1e1e1e" stroke-width="0.08">4000</text>
<line x1="182.50" y1="524.60" x2="182.50" y2="526.80" stroke="#231f20" stroke-width="0.8"/>
<text x="183.00" y="537.80" font-size="7" text-anchor="middle" fill="#1e1e1e" stroke="#1e1e1e" stroke-width="0.08">5000</text>
<text x="110.40" y="549.40" font-size="9.0" text-anchor="middle" fill="#1e1e1e" textLength="19.8" lengthAdjust="spacingAndGlyphs" stroke="#1e1e1e" stroke-width="0.08">Time (s)</text>
<text x="14.60" y="474.00" font-size="6.9" text-anchor="middle" fill="#1e1e1e" transform="rotate(-90 14.60 474.00)" textLength="57.8" lengthAdjust="spacingAndGlyphs" stroke="#1e1e1e" stroke-width="0.08">Absorbance (405 nm)</text>
<line x1="37.00" y1="502.60" x2="167.60" y2="502.90" stroke="#a9d3ee" stroke-width="1.0"/>
<path d="M36.30,495.20L36.84,495.42L37.38,495.65L37.92,495.87L38.46,496.06L39.00,496.20L39.50,496.29L40.00,496.36L40.50,496.42L41.00,496.46L41.50,496.50L42.00,496.52L42.50,496.54L43.00,496.55L43.50,496.56L44.00,496.57L44.50,496.58L45.00,496.60L45.50,496.62L46.00,496.63L46.50,496.65L47.00,496.66L47.50,496.67L48.00,496.68L48.50,496.69L49.00,496.70L49.50,496.71L50.00,496.72L50.50,496.73L51.00,496.73L51.50,496.74L52.00,496.74L52.50,496.75L53.00,496.75L53.50,496.75L54.00,496.76L54.50,496.76L55.00,496.76L55.50,496.77L56.00,496.77L56.50,496.77L57.00,496.77L57.50,496.78L58.00,496.78L58.50,496.79L59.00,496.79L59.50,496.79L60.00,496.80L60.50,496.81L61.00,496.81L61.50,496.82L62.00,496.82L62.50,496.83L63.00,496.83L63.50,496.84L64.00,496.85L64.50,496.85L65.00,496.86L65.50,496.86L66.00,496.87L66.50,496.87L67.00,496.88L67.50,496.88L68.00,496.89L68.50,496.89L69.00,496.89L69.50,496.90L70.00,496.90L70.50,496.90L71.00,496.91L71.50,496.91L72.00,496.91L72.50,496.91L73.00,496.92L73.50,496.92L74.00,496.92L74.50,496.92L75.00,496.93L75.50,496.93L76.00,496.93L76.50,496.93L77.00,496.94L77.50,496.94L78.00,496.94L78.50,496.94L79.00,496.94L79.50,496.95L80.00,496.95L80.50,496.95L81.00,496.95L81.50,496.95L82.00,496.96L82.50,496.96L83.00,496.96L83.50,496.96L84.00,496.96L84.50,496.96L85.00,496.97L85.50,496.97L86.00,496.97L86.50,496.97L87.00,496.97L87.50,496.97L88.00,496.97L88.50,496.97L89.00,496.98L89.50,496.98L90.00,496.98L90.50,496.98L91.00,496.98L91.50,496.98L92.00,496.98L92.50,496.98L93.00,496.98L93.50,496.99L94.00,496.99L94.50,496.99L95.00,496.99L95.50,496.99L96.00,496.99L96.50,496.99L97.00,496.99L97.50,496.99L98.00,496.99L98.50,496.99L99.00,496.99L99.50,496.99L100.00,496.99L100.50,496.99L101.00,496.99L101.50,496.99L102.00,497.00L102.50,497.00L103.00,497.00L103.50,497.00L104.00,497.00L104.50,497.00L105.00,497.00L105.50,497.00L106.00,497.00L106.50,497.00L107.00,497.00L107.50,497.00L108.00,497.00L108.50,497.00L109.00,497.00L109.50,497.00L110.00,497.00L110.50,497.00L111.00,497.00L111.50,497.00L112.00,497.00L112.50,497.00L113.00,497.00L113.50,497.00L114.00,497.00L114.50,497.00L115.00,497.00L115.50,497.00L116.00,497.00L116.50,497.00L117.00,497.00L117.50,497.00L118.00,497.00L118.50,497.00L119.00,497.00L119.50,497.00L120.00,497.00L120.50,497.00L121.00,497.00L121.50,497.00L122.00,497.00L122.50,496.99L123.00,496.99L123.50,496.98L124.00,496.97L124.50,496.96L125.00,496.95L125.50,496.94L126.00,496.92L126.50,496.89L127.00,496.87L127.50,496.84L128.00,496.80L128.53,496.75L129.05,496.66L129.58,496.55L130.11,496.42L130.63,496.27L131.16,496.10L131.69,495.91L132.21,495.71L132.74,495.50L133.27,495.29L133.79,495.07L134.32,494.85L134.85,494.63L135.37,494.41L135.90,494.20L136.40,494.00L136.91,493.79L137.41,493.57L137.92,493.34L138.42,493.11L138.93,492.88L139.43,492.64L139.94,492.39L140.44,492.15L140.95,491.90L141.45,491.65L141.96,491.41L142.46,491.17L142.97,490.92L143.47,490.69L143.98,490.46L144.48,490.23L144.99,490.01L145.49,489.80L146.00,489.59L146.50,489.40L147.00,489.22L147.50,489.05L148.00,488.90L148.50,488.75L149.00,488.61L149.50,488.48L150.00,488.36L150.50,488.23L151.00,488.11L151.50,487.99L152.00,487.87L152.50,487.75L153.00,487.63L153.50,487.49L154.00,487.36L154.50,487.21L155.00,487.05L155.50,486.89L156.00,486.71L156.50,486.51L157.00,486.30L157.53,486.06L158.06,485.79L158.59,485.51L159.11,485.20L159.64,484.89L160.17,484.57L160.70,484.24L161.23,483.90L161.76,483.57L162.29,483.24L162.81,482.91L163.34,482.60L163.87,482.29L164.40,482.00L164.93,481.72L165.47,481.45L166.00,481.18L166.53,480.92L167.07,480.66L167.60,480.41L168.13,480.16L168.67,479.91L169.20,479.66L169.73,479.41L170.27,479.16L170.80,478.90" stroke="#f6a21e" stroke-width="0.9" fill="none" stroke-dasharray="2.2,1.4"/>
<path d="M36.30,496.20L36.84,496.42L37.38,496.65L37.92,496.87L38.46,497.06L39.00,497.20L39.50,497.29L40.00,497.36L40.50,497.42L41.00,497.46L41.50,497.50L42.00,497.52L42.50,497.54L43.00,497.55L43.50,497.56L44.00,497.57L44.50,497.58L45.00,497.60L45.50,497.62L46.00,497.63L46.50,497.65L47.00,497.66L47.50,497.67L48.00,497.68L48.50,497.69L49.00,497.70L49.50,497.71L50.00,497.72L50.50,497.73L51.00,497.73L51.50,497.74L52.00,497.74L52.50,497.75L53.00,497.75L53.50,497.75L54.00,497.76L54.50,497.76L55.00,497.76L55.50,497.77L56.00,497.77L56.50,497.77L57.00,497.77L57.50,497.78L58.00,497.78L58.50,497.79L59.00,497.79L59.50,497.79L60.00,497.80L60.50,497.81L61.00,497.81L61.50,497.82L62.00,497.82L62.50,497.83L63.00,497.84L63.50,497.84L64.00,497.85L64.50,497.86L65.00,497.86L65.50,497.87L66.00,497.87L66.50,497.88L67.00,497.88L67.50,497.89L68.00,497.89L68.50,497.89L69.00,497.90L69.50,497.90L70.00,497.90L70.50,497.90L71.00,497.90L71.50,497.90L72.00,497.90L72.50,497.90L73.00,497.90L73.50,497.91L74.00,497.91L74.50,497.91L75.00,497.91L75.50,497.91L76.00,497.91L76.50,497.91L77.00,497.91L77.50,497.91L78.00,497.91L78.50,497.91L79.00,497.91L79.50,497.91L80.00,497.91L80.50,497.91L81.00,497.91L81.50,497.91L82.00,497.91L82.50,497.91L83.00,497.92L83.50,497.92L84.00,497.92L84.50,497.92L85.00,497.92L85.50,497.92L86.00,497.92L86.50,497.92L87.00,497.92L87.50,497.92L88.00,497.92L88.50,497.92L89.00,497.92L89.50,497.92L90.00,497.92L90.50,497.92L91.00,497.92L91.50,497.92L92.00,497.92L92.50,497.92L93.00,497.93L93.50,497.93L94.00,497.93L94.50,497.93L95.00,497.93L95.50,497.93L96.00,497.93L96.50,497.93L97.00,497.93L97.50,497.93L98.00,497.93L98.50,497.93L99.00,497.94L99.50,497.94L100.00,497.94L100.50,497.94L101.00,497.94L101.50,497.94L102.00,497.94L102.50,497.94L103.00,497.95L103.50,497.95L104.00,497.95L104.50,497.95L105.00,497.95L105.50,497.95L106.00,497.96L106.50,497.96L107.00,497.96L107.50,497.96L108.00,497.96L108.50,497.97L109.00,497.97L109.50,497.97L110.00,497.97L110.50,497.97L111.00,497.98L111.50,497.98L112.00,497.98L112.50,497.99L113.00,497.99L113.50,497.99L114.00,497.99L114.50,498.00L115.00,498.00L115.50,498.01L116.00,498.02L116.50,498.03L117.00,498.05L117.50,498.07L118.00,498.10L118.50,498.12L119.00,498.15L119.50,498.18L120.00,498.21L120.50,498.24L121.00,498.27L121.50,498.29L122.00,498.32L122.50,498.34L123.00,498.36L123.50,498.38L124.00,498.39L124.50,498.40L125.00,498.40L125.51,498.40L126.02,498.40L126.53,498.40L127.04,498.39L127.55,498.38L128.05,498.37L128.56,498.35L129.07,498.32L129.58,498.29L130.09,498.25L130.60,498.20L131.10,498.14L131.61,498.05L132.11,497.95L132.62,497.84L133.12,497.71L133.63,497.57L134.13,497.41L134.64,497.25L135.14,497.07L135.65,496.89L136.15,496.70L136.66,496.50L137.16,496.30L137.67,496.10L138.17,495.89L138.68,495.69L139.18,495.48L139.69,495.28L140.19,495.08L140.70,494.89L141.20,494.70L141.70,494.51L142.20,494.32L142.70,494.13L143.20,493.93L143.70,493.73L144.20,493.52L144.70,493.32L145.20,493.11L145.70,492.90L146.20,492.69L146.70,492.48L147.20,492.27L147.70,492.06L148.20,491.85L148.70,491.65L149.20,491.44L149.70,491.25L150.20,491.05L150.70,490.86L151.20,490.68L151.70,490.50L152.20,490.32L152.71,490.15L153.21,489.98L153.72,489.81L154.22,489.64L154.73,489.47L155.23,489.31L155.74,489.15L156.24,488.99L156.75,488.84L157.25,488.68L157.76,488.53L158.26,488.38L158.77,488.24L159.27,488.10L159.78,487.96L160.28,487.82L160.79,487.68L161.29,487.55L161.80,487.43L162.30,487.30L162.80,487.18L163.30,487.07L163.80,486.96L164.30,486.86L164.80,486.76L165.30,486.66L165.80,486.57L166.30,486.48L166.80,486.40L167.30,486.31L167.80,486.23L168.30,486.14L168.80,486.06L169.30,485.97L169.80,485.88L170.30,485.79L170.80,485.70" stroke="#1d4c85" stroke-width="1.1" fill="none" stroke-dasharray="2.8,1.6"/>
<path d="M36.30,497.60L36.84,497.82L37.38,498.05L37.92,498.27L38.46,498.46L39.00,498.60L39.50,498.69L40.00,498.76L40.50,498.82L41.00,498.86L41.50,498.90L42.00,498.92L42.50,498.94L43.00,498.95L43.50,498.96L44.00,498.97L44.50,498.98L45.00,499.00L45.50,499.02L46.00,499.03L46.50,499.05L47.00,499.06L47.50,499.07L48.00,499.08L48.50,499.09L49.00,499.10L49.50,499.11L50.00,499.12L50.50,499.13L51.00,499.13L51.50,499.14L52.00,499.14L52.50,499.15L53.00,499.15L53.50,499.15L54.00,499.16L54.50,499.16L55.00,499.16L55.50,499.17L56.00,499.17L56.50,499.17L57.00,499.17L57.50,499.18L58.00,499.18L58.50,499.19L59.00,499.19L59.50,499.19L60.00,499.20L60.50,499.21L61.00,499.21L61.50,499.22L62.00,499.23L62.50,499.23L63.00,499.24L63.50,499.25L64.00,499.25L64.50,499.26L65.00,499.26L65.50,499.27L66.00,499.28L66.50,499.28L67.00,499.29L67.50,499.29L68.00,499.29L68.50,499.30L69.00,499.30L69.50,499.30L70.00,499.30L70.50,499.30L71.00,499.30L71.50,499.30L72.00,499.30L72.50,499.30L73.00,499.30L73.50,499.30L74.00,499.30L74.50,499.30L75.00,499.30L75.50,499.30L76.00,499.30L76.50,499.30L77.00,499.30L77.50,499.30L78.00,499.30L78.50,499.30L79.00,499.30L79.50,499.30L80.00,499.30L80.50,499.30L81.00,499.30L81.50,499.30L82.00,499.30L82.50,499.30L83.00,499.30L83.50,499.30L84.00,499.30L84.50,499.29L85.00,499.29L85.50,499.29L86.00,499.29L86.50,499.29L87.00,499.29L87.50,499.29L88.00,499.29L88.50,499.29L89.00,499.29L89.50,499.29L90.00,499.29L90.50,499.29L91.00,499.28L91.50,499.28L92.00,499.28L92.50,499.28L93.00,499.28L93.50,499.28L94.00,499.28L94.50,499.27L95.00,499.27L95.50,499.27L96.00,499.27L96.50,499.27L97.00,499.27L97.50,499.26L98.00,499.26L98.50,499.26L99.00,499.26L99.50,499.26L100.00,499.25L100.50,499.25L101.00,499.25L101.50,499.25L102.00,499.24L102.50,499.24L103.00,499.24L103.50,499.24L104.00,499.23L104.50,499.23L105.00,499.23L105.50,499.22L106.00,499.22L106.50,499.22L107.00,499.21L107.50,499.21L108.00,499.21L108.50,499.20L109.00,499.20L109.50,499.19L110.00,499.19L110.50,499.19L111.00,499.18L111.50,499.18L112.00,499.17L112.50,499.17L113.00,499.16L113.50,499.16L114.00,499.15L114.50,499.15L115.00,499.14L115.50,499.14L116.00,499.13L116.50,499.13L117.00,499.12L117.50,499.12L118.00,499.11L118.50,499.11L119.00,499.10L119.50,499.09L120.00,499.09L120.50,499.08L121.00,499.07L121.50,499.07L122.00,499.06L122.50,499.05L123.00,499.05L123.50,499.04L124.00,499.03L124.50,499.02L125.00,499.02L125.50,499.01L126.00,499.00L126.51,498.94L127.02,498.78L127.53,498.53L128.04,498.21L128.55,497.82L129.05,497.37L129.56,496.88L130.07,496.36L130.58,495.81L131.09,495.26L131.60,494.70L132.15,494.07L132.70,493.37L133.25,492.56L133.80,491.60L134.32,490.50L134.83,489.23L135.35,487.87L135.87,486.51L136.38,485.26L136.90,484.20L137.44,483.28L137.97,482.47L138.51,481.74L139.05,481.09L139.59,480.50L140.12,479.94L140.66,479.42L141.20,478.90L141.72,478.42L142.25,477.99L142.77,477.60L143.30,477.24L143.82,476.91L144.35,476.59L144.88,476.28L145.40,475.97L145.93,475.66L146.45,475.33L146.97,474.98L147.50,474.60L148.03,474.20L148.57,473.80L149.10,473.39L149.63,472.99L150.17,472.57L150.70,472.15L151.23,471.72L151.77,471.27L152.30,470.81L152.83,470.33L153.37,469.83L153.90,469.30L154.43,468.74L154.96,468.15L155.49,467.52L156.02,466.87L156.55,466.21L157.08,465.55L157.61,464.88L158.14,464.23L158.67,463.60L159.20,463.00L159.72,462.43L160.24,461.86L160.76,461.30L161.28,460.75L161.80,460.20L162.32,459.67L162.84,459.15L163.36,458.65L163.88,458.17L164.40,457.70L164.93,457.24L165.46,456.78L165.99,456.34L166.52,455.91L167.05,455.50L167.58,455.11L168.11,454.74L168.64,454.40L169.17,454.08L169.70,453.80L170.25,453.62L170.80,453.50" stroke="#1d4c85" stroke-width="0.9" fill="none"/>
<path d="M36.30,497.00L36.84,497.22L37.38,497.45L37.92,497.67L38.46,497.86L39.00,498.00L39.50,498.09L40.00,498.16L40.50,498.22L41.00,498.26L41.50,498.30L42.00,498.32L42.50,498.34L43.00,498.35L43.50,498.36L44.00,498.37L44.50,498.38L45.00,498.40L45.50,498.42L46.00,498.43L46.50,498.45L47.00,498.46L47.50,498.47L48.00,498.48L48.50,498.49L49.00,498.50L49.50,498.51L50.00,498.52L50.50,498.53L51.00,498.53L51.50,498.54L52.00,498.54L52.50,498.55L53.00,498.55L53.50,498.55L54.00,498.56L54.50,498.56L55.00,498.56L55.50,498.57L56.00,498.57L56.50,498.57L57.00,498.57L57.50,498.58L58.00,498.58L58.50,498.59L59.00,498.59L59.50,498.59L60.00,498.60L60.50,498.61L61.00,498.61L61.50,498.62L62.00,498.63L62.50,498.63L63.00,498.64L63.50,498.65L64.00,498.65L64.50,498.66L65.00,498.66L65.50,498.67L66.00,498.68L66.50,498.68L67.00,498.69L67.50,498.69L68.00,498.69L68.50,498.70L69.00,498.70L69.50,498.70L70.00,498.70L70.50,498.70L71.00,498.70L71.50,498.70L72.00,498.70L72.50,498.70L73.00,498.70L73.50,498.70L74.00,498.70L74.50,498.70L75.00,498.70L75.50,498.70L76.00,498.70L76.50,498.70L77.00,498.70L77.50,498.70L78.00,498.70L78.50,498.70L79.00,498.70L79.50,498.70L80.00,498.70L80.50,498.70L81.00,498.70L81.50,498.70L82.00,498.70L82.50,498.70L83.00,498.70L83.50,498.70L84.00,498.70L84.50,498.70L85.00,498.70L85.50,498.70L86.00,498.70L86.50,498.70L87.00,498.70L87.50,498.70L88.00,498.70L88.50,498.69L89.00,498.69L89.50,498.69L90.00,498.69L90.50,498.69L91.00,498.69L91.50,498.69L92.00,498.69L92.50,498.69L93.00,498.69L93.50,498.69L94.00,498.69L94.50,498.69L95.00,498.69L95.50,498.69L96.00,498.69L96.50,498.69L97.00,498.68L97.50,498.68L98.00,498.68L98.50,498.68L99.00,498.68L99.50,498.68L100.00,498.68L100.50,498.68L101.00,498.68L101.50,498.67L102.00,498.67L102.50,498.67L103.00,498.67L103.50,498.67L104.00,498.67L104.50,498.67L105.00,498.67L105.50,498.66L106.00,498.66L106.50,498.66L107.00,498.66L107.50,498.66L108.00,498.66L108.50,498.65L109.00,498.65L109.50,498.65L110.00,498.65L110.50,498.65L111.00,498.64L111.50,498.64L112.00,498.64L112.50,498.64L113.00,498.64L113.50,498.63L114.00,498.63L114.50,498.63L115.00,498.63L115.50,498.62L116.00,498.62L116.50,498.62L117.00,498.62L117.50,498.61L118.00,498.61L118.50,498.61L119.00,498.61L119.50,498.60L120.00,498.60L120.53,498.57L121.06,498.49L121.59,498.35L122.12,498.17L122.65,497.95L123.18,497.69L123.71,497.39L124.24,497.06L124.77,496.69L125.30,496.30L125.83,495.91L126.36,495.55L126.89,495.18L127.42,494.79L127.95,494.34L128.48,493.82L129.01,493.20L129.54,492.46L130.07,491.57L130.60,490.50L131.13,489.16L131.67,487.54L132.20,485.72L132.73,483.80L133.27,481.86L133.80,480.00L134.32,478.20L134.83,476.33L135.35,474.44L135.87,472.60L136.38,470.87L136.90,469.30L137.44,467.82L137.97,466.41L138.51,465.08L139.05,463.84L139.59,462.68L140.12,461.62L140.66,460.66L141.20,459.80L141.73,459.06L142.26,458.43L142.79,457.89L143.32,457.43L143.85,457.04L144.38,456.70L144.91,456.40L145.44,456.12L145.97,455.86L146.50,455.60L147.02,455.36L147.54,455.17L148.06,455.02L148.58,454.90L149.10,454.81L149.62,454.74L150.14,454.67L150.66,454.62L151.18,454.56L151.70,454.50L152.20,454.44L152.71,454.38L153.21,454.32L153.71,454.27L154.21,454.22L154.72,454.17L155.22,454.13L155.72,454.09L156.22,454.05L156.73,454.02L157.23,453.99L157.73,453.96L158.23,453.93L158.74,453.91L159.24,453.89L159.74,453.86L160.24,453.84L160.75,453.83L161.25,453.81L161.75,453.79L162.26,453.78L162.76,453.77L163.26,453.75L163.76,453.74L164.27,453.73L164.77,453.71L165.27,453.70L165.77,453.69L166.28,453.67L166.78,453.66L167.28,453.64L167.78,453.63L168.29,453.61L168.79,453.59L169.29,453.57L169.79,453.55L170.30,453.53L170.80,453.50" stroke="#37b03b" stroke-width="0.9" fill="none"/>
<path d="M36.30,496.80L36.84,497.02L37.38,497.25L37.92,497.47L38.46,497.66L39.00,497.80L39.50,497.89L40.00,497.96L40.50,498.02L41.00,498.06L41.50,498.10L42.00,498.12L42.50,498.14L43.00,498.15L43.50,498.16L44.00,498.17L44.50,498.18L45.00,498.20L45.50,498.22L46.00,498.23L46.50,498.25L47.00,498.26L47.50,498.27L48.00,498.28L48.50,498.29L49.00,498.30L49.50,498.31L50.00,498.32L50.50,498.33L51.00,498.33L51.50,498.34L52.00,498.34L52.50,498.35L53.00,498.35L53.50,498.35L54.00,498.36L54.50,498.36L55.00,498.36L55.50,498.37L56.00,498.37L56.50,498.37L57.00,498.37L57.50,498.38L58.00,498.38L58.50,498.39L59.00,498.39L59.50,498.39L60.00,498.40L60.50,498.41L61.00,498.41L61.50,498.42L62.00,498.43L62.50,498.43L63.00,498.44L63.50,498.45L64.00,498.45L64.50,498.46L65.00,498.46L65.50,498.47L66.00,498.48L66.50,498.48L67.00,498.49L67.50,498.49L68.00,498.49L68.50,498.50L69.00,498.50L69.50,498.50L70.00,498.50L70.50,498.50L71.00,498.50L71.50,498.50L72.00,498.50L72.50,498.50L73.00,498.50L73.50,498.50L74.00,498.50L74.50,498.50L75.00,498.50L75.50,498.50L76.00,498.50L76.50,498.50L77.00,498.50L77.50,498.50L78.00,498.50L78.50,498.50L79.00,498.50L79.50,498.50L80.00,498.50L80.50,498.50L81.00,498.50L81.50,498.50L82.00,498.49L82.50,498.49L83.00,498.49L83.50,498.49L84.00,498.49L84.50,498.49L85.00,498.49L85.50,498.49L86.00,498.49L86.50,498.49L87.00,498.48L87.50,498.48L88.00,498.48L88.50,498.48L89.00,498.48L89.50,498.48L90.00,498.47L90.50,498.47L91.00,498.47L91.50,498.47L92.00,498.47L92.50,498.46L93.00,498.46L93.50,498.46L94.00,498.46L94.50,498.45L95.00,498.45L95.50,498.45L96.00,498.45L96.50,498.44L97.00,498.44L97.50,498.44L98.00,498.43L98.50,498.43L99.00,498.42L99.50,498.42L100.00,498.42L100.50,498.41L101.00,498.41L101.50,498.40L102.00,498.40L102.50,498.39L103.00,498.39L103.50,498.38L104.00,498.38L104.50,498.37L105.00,498.37L105.50,498.36L106.00,498.35L106.50,498.35L107.00,498.34L107.50,498.34L108.00,498.33L108.50,498.32L109.00,498.31L109.50,498.31L110.00,498.30L110.50,498.27L111.00,498.18L111.50,498.01L112.00,497.76L112.50,497.39L113.00,496.90L113.50,496.28L114.00,495.50L114.50,494.47L115.00,493.16L115.50,491.65L116.00,490.00L116.50,488.23L117.00,486.32L117.50,484.29L118.00,482.18L118.50,480.00L119.00,477.70L119.50,475.25L120.00,472.75L120.50,470.30L121.00,468.00L121.50,465.78L122.00,463.59L122.50,461.51L123.00,459.62L123.50,458.00L124.00,456.69L124.50,455.64L125.00,454.78L125.50,454.09L126.00,453.50L126.50,453.01L127.00,452.64L127.50,452.37L128.00,452.17L128.50,452.05L129.00,451.97L129.50,451.93L130.00,451.90L130.50,451.88L131.00,451.86L131.50,451.84L132.00,451.82L132.50,451.80L133.00,451.79L133.50,451.77L134.00,451.76L134.50,451.74L135.00,451.73L135.50,451.72L136.00,451.71L136.50,451.70L137.00,451.69L137.50,451.68L138.00,451.67L138.50,451.66L139.00,451.66L139.50,451.65L140.00,451.64L140.50,451.64L141.00,451.63L141.50,451.63L142.00,451.63L142.50,451.62L143.00,451.62L143.50,451.62L144.00,451.62L144.50,451.61L145.00,451.61L145.50,451.61L146.00,451.61L146.50,451.61L147.00,451.61L147.50,451.61L148.00,451.60L148.50,451.60L149.00,451.60L149.50,451.60L150.00,451.60L150.51,451.60L151.01,451.60L151.52,451.59L152.03,451.59L152.54,451.59L153.04,451.59L153.55,451.58L154.06,451.58L154.57,451.58L155.07,451.57L155.58,451.57L156.09,451.56L156.60,451.56L157.10,451.55L157.61,451.55L158.12,451.54L158.62,451.54L159.13,451.53L159.64,451.53L160.15,451.52L160.65,451.52L161.16,451.51L161.67,451.50L162.18,451.50L162.68,451.49L163.19,451.49L163.70,451.48L164.20,451.47L164.71,451.47L165.22,451.46L165.73,451.46L166.23,451.45L166.74,451.44L167.25,451.44L167.76,451.43L168.26,451.43L168.77,451.42L169.28,451.42L169.79,451.41L170.29,451.40L170.80,451.40" stroke="#4e3866" stroke-width="0.9" fill="none"/>
<path d="M36.30,497.40L36.84,497.62L37.38,497.85L37.92,498.07L38.46,498.26L39.00,498.40L39.50,498.49L40.00,498.56L40.50,498.62L41.00,498.66L41.50,498.70L42.00,498.72L42.50,498.74L43.00,498.75L43.50,498.76L44.00,498.77L44.50,498.78L45.00,498.80L45.50,498.82L46.00,498.83L46.50,498.85L47.00,498.86L47.50,498.87L48.00,498.88L48.50,498.89L49.00,498.90L49.50,498.91L50.00,498.92L50.50,498.93L51.00,498.93L51.50,498.94L52.00,498.94L52.50,498.95L53.00,498.95L53.50,498.95L54.00,498.96L54.50,498.96L55.00,498.96L55.50,498.97L56.00,498.97L56.50,498.97L57.00,498.97L57.50,498.98L58.00,498.98L58.50,498.99L59.00,498.99L59.50,498.99L60.00,499.00L60.50,499.01L61.00,499.01L61.50,499.02L62.00,499.03L62.50,499.03L63.00,499.04L63.50,499.05L64.00,499.05L64.50,499.06L65.00,499.06L65.50,499.07L66.00,499.08L66.50,499.08L67.00,499.09L67.50,499.09L68.00,499.09L68.50,499.10L69.00,499.10L69.50,499.10L70.00,499.10L70.50,499.10L71.00,499.10L71.50,499.10L72.00,499.10L72.50,499.10L73.00,499.10L73.50,499.10L74.00,499.10L74.50,499.10L75.00,499.10L75.50,499.10L76.00,499.09L76.50,499.09L77.00,499.09L77.50,499.09L78.00,499.09L78.50,499.09L79.00,499.09L79.50,499.09L80.00,499.09L80.50,499.08L81.00,499.08L81.50,499.08L82.00,499.08L82.50,499.08L83.00,499.07L83.50,499.07L84.00,499.07L84.50,499.07L85.00,499.07L85.50,499.06L86.00,499.06L86.50,499.06L87.00,499.06L87.50,499.05L88.00,499.05L88.50,499.05L89.00,499.05L89.50,499.04L90.00,499.04L90.50,499.04L91.00,499.03L91.50,499.03L92.00,499.03L92.50,499.03L93.00,499.02L93.50,499.02L94.00,499.01L94.50,499.01L95.00,499.01L95.50,499.00L96.00,499.00L96.50,498.99L97.00,498.93L97.50,498.78L98.00,498.49L98.50,498.00L99.00,497.07L99.50,495.60L100.00,493.79L100.50,491.86L101.00,490.00L101.50,488.14L102.00,486.13L102.50,484.07L103.00,482.05L103.50,480.16L104.00,478.50L104.50,477.10L105.00,475.91L105.50,474.90L106.00,474.00L106.56,473.16L107.12,472.48L107.68,471.91L108.24,471.37L108.80,470.80L109.33,470.23L109.85,469.67L110.38,469.11L110.90,468.56L111.42,468.03L111.95,467.50L112.47,466.99L113.00,466.50L113.50,466.05L114.00,465.63L114.50,465.22L115.00,464.82L115.50,464.43L116.00,464.05L116.50,463.66L117.00,463.27L117.50,462.86L118.00,462.44L118.50,462.00L119.00,461.53L119.50,461.04L120.00,460.53L120.50,460.01L121.00,459.48L121.50,458.96L122.00,458.46L122.50,457.96L123.00,457.50L123.50,457.05L124.00,456.60L124.50,456.16L125.00,455.73L125.50,455.31L126.00,454.90L126.50,454.51L127.00,454.15L127.50,453.81L128.00,453.50L128.50,453.21L129.00,452.93L129.50,452.67L130.00,452.43L130.50,452.21L131.00,452.02L131.50,451.86L132.00,451.74L132.50,451.65L133.00,451.60L133.50,451.57L134.00,451.55L134.50,451.53L135.00,451.51L135.50,451.49L136.00,451.47L136.50,451.45L137.00,451.44L137.50,451.42L138.00,451.41L138.50,451.40L139.00,451.39L139.50,451.38L140.00,451.37L140.50,451.36L141.00,451.35L141.50,451.35L142.00,451.34L142.50,451.34L143.00,451.33L143.50,451.33L144.00,451.32L144.50,451.32L145.00,451.32L145.50,451.32L146.00,451.31L146.50,451.31L147.00,451.31L147.50,451.31L148.00,451.31L148.50,451.31L149.00,451.30L149.50,451.30L150.00,451.30L150.51,451.30L151.01,451.29L151.52,451.29L152.03,451.29L152.54,451.28L153.04,451.28L153.55,451.27L154.06,451.27L154.57,451.26L155.07,451.26L155.58,451.25L156.09,451.24L156.60,451.24L157.10,451.23L157.61,451.22L158.12,451.21L158.62,451.21L159.13,451.20L159.64,451.19L160.15,451.18L160.65,451.17L161.16,451.16L161.67,451.15L162.18,451.15L162.68,451.14L163.19,451.13L163.70,451.12L164.20,451.11L164.71,451.10L165.22,451.09L165.73,451.08L166.23,451.07L166.74,451.07L167.25,451.06L167.76,451.05L168.26,451.04L168.77,451.03L169.28,451.02L169.79,451.02L170.29,451.01L170.80,451.00" stroke="#c4123e" stroke-width="1.1" fill="none"/>
<path d="M36.30,496.40L36.84,496.62L37.38,496.85L37.92,497.07L38.46,497.26L39.00,497.40L39.50,497.49L40.00,497.56L40.50,497.62L41.00,497.66L41.50,497.70L42.00,497.72L42.50,497.74L43.00,497.75L43.50,497.76L44.00,497.77L44.50,497.78L45.00,497.80L45.50,497.82L46.00,497.83L46.50,497.85L47.00,497.86L47.50,497.87L48.00,497.88L48.50,497.89L49.00,497.90L49.50,497.91L50.00,497.92L50.50,497.93L51.00,497.93L51.50,497.94L52.00,497.94L52.50,497.95L53.00,497.95L53.50,497.95L54.00,497.96L54.50,497.96L55.00,497.96L55.50,497.97L56.00,497.97L56.50,497.97L57.00,497.97L57.50,497.98L58.00,497.98L58.50,497.99L59.00,497.99L59.50,497.99L60.00,498.00L60.50,498.01L61.00,498.01L61.50,498.02L62.00,498.02L62.50,498.03L63.00,498.03L63.50,498.04L64.00,498.04L64.50,498.05L65.00,498.05L65.50,498.06L66.00,498.06L66.50,498.07L67.00,498.07L67.50,498.08L68.00,498.08L68.50,498.09L69.00,498.09L69.50,498.10L70.00,498.10L70.50,498.10L71.00,498.11L71.50,498.11L72.00,498.12L72.50,498.12L73.00,498.13L73.50,498.13L74.00,498.14L74.50,498.14L75.00,498.14L75.50,498.15L76.00,498.15L76.50,498.16L77.00,498.16L77.50,498.17L78.00,498.17L78.50,498.17L79.00,498.18L79.50,498.18L80.00,498.18L80.50,498.19L81.00,498.19L81.50,498.19L82.00,498.19L82.50,498.20L83.00,498.20L83.50,498.20L84.00,498.20L84.50,498.20L85.00,498.20L85.50,498.19L86.00,498.16L86.50,498.05L87.00,497.84L87.50,497.50L88.00,496.69L88.50,495.22L89.00,493.30L89.50,491.12L90.00,488.88L90.50,486.77L91.00,485.00L91.50,483.61L92.00,482.42L92.50,481.27L93.00,480.02L93.50,478.50L94.00,476.58L94.50,474.37L95.00,472.06L95.50,469.87L96.00,468.00L96.50,466.42L97.00,464.97L97.50,463.64L98.00,462.42L98.50,461.30L99.00,460.28L99.50,459.35L100.00,458.50L100.50,457.76L101.00,457.14L101.50,456.64L102.00,456.21L102.50,455.86L103.00,455.55L103.50,455.27L104.00,455.00L104.50,454.74L105.00,454.52L105.50,454.33L106.00,454.17L106.50,454.04L107.00,453.93L107.50,453.84L108.00,453.77L108.50,453.71L109.00,453.67L109.50,453.63L110.00,453.60L110.50,453.57L111.00,453.54L111.50,453.52L112.00,453.49L112.50,453.47L113.00,453.45L113.50,453.43L114.00,453.41L114.50,453.39L115.00,453.38L115.50,453.36L116.00,453.35L116.50,453.34L117.00,453.32L117.50,453.31L118.00,453.30L118.50,453.29L119.00,453.29L119.50,453.28L120.00,453.27L120.50,453.27L121.00,453.26L121.50,453.25L122.00,453.25L122.50,453.25L123.00,453.24L123.50,453.24L124.00,453.24L124.50,453.23L125.00,453.23L125.50,453.23L126.00,453.22L126.50,453.22L127.00,453.22L127.50,453.22L128.00,453.21L128.50,453.21L129.00,453.21L129.50,453.20L130.00,453.20L130.50,453.20L131.00,453.19L131.50,453.19L132.00,453.18L132.50,453.18L133.00,453.17L133.50,453.16L134.00,453.16L134.50,453.15L135.00,453.14L135.50,453.14L136.00,453.13L136.50,453.12L137.00,453.11L137.50,453.11L138.00,453.10L138.50,453.09L139.00,453.08L139.50,453.07L140.00,453.07L140.50,453.06L141.00,453.05L141.50,453.04L142.00,453.03L142.50,453.02L143.00,453.01L143.50,453.01L144.00,453.00L144.50,452.99L145.00,452.98L145.50,452.97L146.00,452.96L146.50,452.96L147.00,452.95L147.50,452.94L148.00,452.93L148.50,452.92L149.00,452.92L149.50,452.91L150.00,452.90L150.51,452.89L151.01,452.89L151.52,452.88L152.03,452.87L152.54,452.86L153.04,452.86L153.55,452.85L154.06,452.84L154.57,452.83L155.07,452.83L155.58,452.82L156.09,452.81L156.60,452.80L157.10,452.80L157.61,452.79L158.12,452.78L158.62,452.77L159.13,452.77L159.64,452.76L160.15,452.75L160.65,452.75L161.16,452.74L161.67,452.73L162.18,452.72L162.68,452.72L163.19,452.71L163.70,452.70L164.20,452.69L164.71,452.69L165.22,452.68L165.73,452.67L166.23,452.67L166.74,452.66L167.25,452.65L167.76,452.64L168.26,452.64L168.77,452.63L169.28,452.62L169.79,452.61L170.29,452.61L170.80,452.60" stroke="#3f3150" stroke-width="1.2" fill="none" stroke-dasharray="3,1.6"/>
<line x1="30.20" y1="559.10" x2="46.40" y2="559.10" stroke="#a9d3ee" stroke-width="1.4"/>
<text x="50.20" y="561.50" font-size="7" fill="#1e1e1e" textLength="7.8" lengthAdjust="spacingAndGlyphs" stroke="#1e1e1e" stroke-width="0.08">HT</text>
<line x1="30.20" y1="569.90" x2="46.40" y2="569.90" stroke="#f6a21e" stroke-width="1.4" stroke-dasharray="3,2"/>
<text x="50.20" y="572.30" font-size="7" fill="#1e1e1e" textLength="21.4" lengthAdjust="spacingAndGlyphs" stroke="#1e1e1e" stroke-width="0.08">Resting</text>
<line x1="30.20" y1="580.80" x2="46.40" y2="580.80" stroke="#1d4c85" stroke-width="1.4" stroke-dasharray="3,2"/>
<text x="50.20" y="583.20" font-size="7" fill="#1e1e1e" textLength="17.8" lengthAdjust="spacingAndGlyphs" stroke="#1e1e1e" stroke-width="0.08">oxLDL</text>
<line x1="30.20" y1="591.50" x2="46.40" y2="591.50" stroke="#1d4c85" stroke-width="1.4"/>
<text x="50.20" y="593.90" font-size="7" fill="#1e1e1e" textLength="38.4" lengthAdjust="spacingAndGlyphs" stroke="#1e1e1e" stroke-width="0.08">GPVI agonist</text>
<line x1="103.20" y1="559.10" x2="119.40" y2="559.10" stroke="#c4123e" stroke-width="1.4"/>
<text x="123.00" y="561.50" font-size="7" fill="#1e1e1e" textLength="66.2" lengthAdjust="spacingAndGlyphs" stroke="#1e1e1e" stroke-width="0.08">oxLDL + GPVI agonist</text>
<line x1="103.20" y1="569.90" x2="119.40" y2="569.90" stroke="#37b03b" stroke-width="1.4"/>
<text x="123.00" y="572.30" font-size="7" fill="#1e1e1e" textLength="28.6" lengthAdjust="spacingAndGlyphs" stroke="#1e1e1e" stroke-width="0.08">Ticagrelor</text>
<line x1="103.20" y1="580.80" x2="119.40" y2="580.80" stroke="#4e3866" stroke-width="1.4"/>
<text x="123.00" y="583.20" font-size="7" fill="#1e1e1e" textLength="20.2" lengthAdjust="spacingAndGlyphs" stroke="#1e1e1e" stroke-width="0.08">Aspirin</text>
<line x1="103.20" y1="591.50" x2="119.40" y2="591.50" stroke="#3f3150" stroke-width="1.4" stroke-dasharray="3,2"/>
<text x="123.00" y="593.90" font-size="7" fill="#1e1e1e" textLength="39.2" lengthAdjust="spacingAndGlyphs" stroke="#1e1e1e" stroke-width="0.08">Indomethacin</text>
<text x="224.80" y="419.20" font-size="12" font-weight="bold" fill="#000" stroke="#000" stroke-width="0.45">H</text>
<text x="276.00" y="417.00" font-size="8.9" font-weight="normal" fill="#2a2a2a" textLength="66.5" lengthAdjust="spacingAndGlyphs">Fibrin generation</text>
<line x1="276.00" y1="418.50" x2="342.50" y2="418.50" stroke="#555" stroke-width="0.7"/>
<line x1="260.80" y1="524.70" x2="260.80" y2="422.70" stroke="#231f20" stroke-width="1.25"/>
<line x1="257.90" y1="524.20" x2="260.80" y2="524.20" stroke="#231f20" stroke-width="1.0"/>
<text x="253.50" y="526.90" font-size="7.5600000000000005" text-anchor="end" fill="#1e1e1e" transform="translate(253.50 526.90) scale(0.92 1) translate(-253.50 -526.90)" stroke="#1e1e1e" stroke-width="0.08">0</text>
<line x1="257.90" y1="499.65" x2="260.80" y2="499.65" stroke="#231f20" stroke-width="1.0"/>
<text x="253.50" y="502.35" font-size="7.5600000000000005" text-anchor="end" fill="#1e1e1e" transform="translate(253.50 502.35) scale(0.92 1) translate(-253.50 -502.35)" stroke="#1e1e1e" stroke-width="0.08">1000</text>
<line x1="257.90" y1="475.10" x2="260.80" y2="475.10" stroke="#231f20" stroke-width="1.0"/>
<text x="253.50" y="477.80" font-size="7.5600000000000005" text-anchor="end" fill="#1e1e1e" transform="translate(253.50 477.80) scale(0.92 1) translate(-253.50 -477.80)" stroke="#1e1e1e" stroke-width="0.08">2000</text>
<line x1="257.90" y1="450.55" x2="260.80" y2="450.55" stroke="#231f20" stroke-width="1.0"/>
<text x="253.50" y="453.25" font-size="7.5600000000000005" text-anchor="end" fill="#1e1e1e" transform="translate(253.50 453.25) scale(0.92 1) translate(-253.50 -453.25)" stroke="#1e1e1e" stroke-width="0.08">3000</text>
<line x1="257.90" y1="426.00" x2="260.80" y2="426.00" stroke="#231f20" stroke-width="1.0"/>
<text x="253.50" y="428.70" font-size="7.5600000000000005" text-anchor="end" fill="#1e1e1e" transform="translate(253.50 428.70) scale(0.92 1) translate(-253.50 -428.70)" stroke="#1e1e1e" stroke-width="0.08">4000</text>
<line x1="260.30" y1="524.20" x2="359.00" y2="524.20" stroke="#231f20" stroke-width="1.25"/>
<rect x="265.40" y="464.40" width="9.70" height="59.80" fill="#1c4e8e"/>
<rect x="278.35" y="474.40" width="9.70" height="49.80" fill="#d00a2c"/>
<rect x="291.30" y="443.70" width="9.70" height="80.50" fill="#1c4e8e"/>
<rect x="304.25" y="474.60" width="9.70" height="49.60" fill="#d00a2c"/>
<rect x="317.20" y="457.30" width="9.70" height="66.90" fill="#37b03b"/>
<rect x="330.15" y="480.80" width="9.70" height="43.40" fill="#62207a"/>
<rect x="343.10" y="482.10" width="9.70" height="42.10" fill="#62207a"/>
<line x1="270.25" y1="464.40" x2="270.25" y2="461.20" stroke="#231f20" stroke-width="0.8"/>
<line x1="268.25" y1="461.20" x2="272.25" y2="461.20" stroke="#231f20" stroke-width="0.8"/>
<line x1="283.20" y1="474.40" x2="283.20" y2="469.20" stroke="#231f20" stroke-width="0.8"/>
<line x1="281.20" y1="469.20" x2="285.20" y2="469.20" stroke="#231f20" stroke-width="0.8"/>
<line x1="296.15" y1="443.70" x2="296.15" y2="442.00" stroke="#231f20" stroke-width="0.8"/>
<line x1="294.15" y1="442.00" x2="298.15" y2="442.00" stroke="#231f20" stroke-width="0.8"/>
<line x1="309.10" y1="474.60" x2="309.10" y2="472.70" stroke="#231f20" stroke-width="0.8"/>
<line x1="307.10" y1="472.70" x2="311.10" y2="472.70" stroke="#231f20" stroke-width="0.8"/>
<line x1="322.05" y1="457.30" x2="322.05" y2="454.40" stroke="#231f20" stroke-width="0.8"/>
<line x1="320.05" y1="454.40" x2="324.05" y2="454.40" stroke="#231f20" stroke-width="0.8"/>
<line x1="335.00" y1="480.80" x2="335.00" y2="478.30" stroke="#231f20" stroke-width="0.8"/>
<line x1="333.00" y1="478.30" x2="337.00" y2="478.30" stroke="#231f20" stroke-width="0.8"/>
<line x1="347.95" y1="482.10" x2="347.95" y2="477.30" stroke="#231f20" stroke-width="0.8"/>
<line x1="345.95" y1="477.30" x2="349.95" y2="477.30" stroke="#231f20" stroke-width="0.8"/>
<circle cx="270.25" cy="457.70" r="1.0" fill="#111"/>
<circle cx="270.25" cy="468.08" r="1.0" fill="#111"/>
<circle cx="271.25" cy="471.76" r="1.0" fill="#111"/>
<circle cx="283.20" cy="465.00" r="1.0" fill="#111"/>
<circle cx="283.20" cy="478.08" r="1.0" fill="#111"/>
<circle cx="284.20" cy="481.76" r="1.0" fill="#111"/>
<circle cx="296.15" cy="441.00" r="1.0" fill="#111"/>
<circle cx="296.15" cy="447.38" r="1.0" fill="#111"/>
<circle cx="297.15" cy="451.06" r="1.0" fill="#111"/>
<circle cx="309.10" cy="470.80" r="1.0" fill="#111"/>
<circle cx="309.10" cy="478.28" r="1.0" fill="#111"/>
<circle cx="310.10" cy="481.97" r="1.0" fill="#111"/>
<circle cx="322.05" cy="451.50" r="1.0" fill="#111"/>
<circle cx="322.05" cy="460.98" r="1.0" fill="#111"/>
<circle cx="323.05" cy="464.67" r="1.0" fill="#111"/>
<circle cx="335.00" cy="474.60" r="1.0" fill="#111"/>
<circle cx="335.00" cy="484.48" r="1.0" fill="#111"/>
<circle cx="336.00" cy="488.17" r="1.0" fill="#111"/>
<circle cx="347.95" cy="469.20" r="1.0" fill="#111"/>
<circle cx="347.95" cy="485.78" r="1.0" fill="#111"/>
<circle cx="348.95" cy="489.47" r="1.0" fill="#111"/>
<line x1="270.25" y1="524.20" x2="270.25" y2="525.80" stroke="#231f20" stroke-width="0.7"/>
<line x1="283.20" y1="524.20" x2="283.20" y2="525.80" stroke="#231f20" stroke-width="0.7"/>
<line x1="296.15" y1="524.20" x2="296.15" y2="525.80" stroke="#231f20" stroke-width="0.7"/>
<line x1="309.10" y1="524.20" x2="309.10" y2="525.80" stroke="#231f20" stroke-width="0.7"/>
<line x1="322.05" y1="524.20" x2="322.05" y2="525.80" stroke="#231f20" stroke-width="0.7"/>
<line x1="335.00" y1="524.20" x2="335.00" y2="525.80" stroke="#231f20" stroke-width="0.7"/>
<line x1="347.95" y1="524.20" x2="347.95" y2="525.80" stroke="#231f20" stroke-width="0.7"/>
<text x="270.45" y="531.30" font-size="7.25" text-anchor="end" fill="#1e1e1e" stroke="#1e1e1e" stroke-width="0.08" transform="rotate(-45 270.45 531.30) translate(270.45 531.30) scale(0.98 1) translate(-270.45 -531.30)">veh</text>
<text x="283.40" y="531.30" font-size="7.25" text-anchor="end" fill="#1e1e1e" stroke="#1e1e1e" stroke-width="0.08" transform="rotate(-45 283.40 531.30) translate(283.40 531.30) scale(0.98 1) translate(-283.40 -531.30)">+GPVI agonist</text>
<text x="296.35" y="531.30" font-size="7.25" text-anchor="end" fill="#1e1e1e" stroke="#1e1e1e" stroke-width="0.08" transform="rotate(-45 296.35 531.30) translate(296.35 531.30) scale(0.98 1) translate(-296.35 -531.30)">+oxLDL</text>
<text x="309.30" y="531.30" font-size="7.25" text-anchor="end" fill="#1e1e1e" stroke="#1e1e1e" stroke-width="0.08" transform="rotate(-45 309.30 531.30) translate(309.30 531.30) scale(0.98 1) translate(-309.30 -531.30)">veh</text>
<text x="322.25" y="531.30" font-size="7.25" text-anchor="end" fill="#1e1e1e" stroke="#1e1e1e" stroke-width="0.08" transform="rotate(-45 322.25 531.30) translate(322.25 531.30) scale(0.98 1) translate(-322.25 -531.30)">+Ticagrelor</text>
<text x="335.20" y="531.30" font-size="7.25" text-anchor="end" fill="#1e1e1e" stroke="#1e1e1e" stroke-width="0.08" transform="rotate(-45 335.20 531.30) translate(335.20 531.30) scale(0.98 1) translate(-335.20 -531.30)">+Indomethacin</text>
<text x="348.15" y="531.30" font-size="7.25" text-anchor="end" fill="#1e1e1e" stroke="#1e1e1e" stroke-width="0.08" transform="rotate(-45 348.15 531.30) translate(348.15 531.30) scale(0.98 1) translate(-348.15 -531.30)">+Aspirin</text>
<line x1="282.50" y1="569.70" x2="351.10" y2="569.70" stroke="#6d6e71" stroke-width="1.4"/>
<text x="316.70" y="578.60" font-size="6.8" text-anchor="middle" fill="#1e1e1e" textLength="70.6" lengthAdjust="spacingAndGlyphs" stroke="#1e1e1e" stroke-width="0.08">+oxLDL + GPVI agonist</text>
<path d="M309.3,437 V434.3 H339.6 V446.3" stroke="#231f20" stroke-width="0.9" fill="none"/>
<text x="324.50" y="432.70" font-size="7.8" text-anchor="middle" font-weight="normal" font-style="italic" fill="#1e1e1e">ns</text>
<line x1="309.30" y1="446.30" x2="321.60" y2="446.30" stroke="#231f20" stroke-width="0.9"/>
<line x1="333.20" y1="446.30" x2="345.70" y2="446.30" stroke="#231f20" stroke-width="0.9"/>
<text x="315.40" y="446.00" font-size="6.2" text-anchor="middle" fill="#1e1e1e" stroke="#1e1e1e" stroke-width="0.08">*</text>
<text x="230.90" y="473.80" font-size="6.9" text-anchor="middle" fill="#1e1e1e" transform="rotate(-90 230.90 473.80)" textLength="33" lengthAdjust="spacingAndGlyphs" stroke="#1e1e1e" stroke-width="0.08">Lag time (s)</text>
<text x="387.80" y="419.20" font-size="12" font-weight="bold" fill="#000" stroke="#000" stroke-width="0.45">I</text>
<text x="436.50" y="417.00" font-size="8.9" font-weight="normal" fill="#2a2a2a" textLength="66.5" lengthAdjust="spacingAndGlyphs">Fibrin generation</text>
<line x1="436.50" y1="418.50" x2="503.00" y2="418.50" stroke="#555" stroke-width="0.7"/>
<line x1="421.20" y1="524.70" x2="421.20" y2="422.70" stroke="#231f20" stroke-width="1.25"/>
<line x1="418.30" y1="524.20" x2="421.20" y2="524.20" stroke="#231f20" stroke-width="1.0"/>
<text x="414.60" y="526.90" font-size="7.5600000000000005" text-anchor="end" fill="#1e1e1e" transform="translate(414.60 526.90) scale(0.92 1) translate(-414.60 -526.90)" stroke="#1e1e1e" stroke-width="0.08">0</text>
<line x1="418.30" y1="491.47" x2="421.20" y2="491.47" stroke="#231f20" stroke-width="1.0"/>
<text x="414.60" y="494.17" font-size="7.5600000000000005" text-anchor="end" fill="#1e1e1e" transform="translate(414.60 494.17) scale(0.92 1) translate(-414.60 -494.17)" stroke="#1e1e1e" stroke-width="0.08">2000</text>
<line x1="418.30" y1="458.73" x2="421.20" y2="458.73" stroke="#231f20" stroke-width="1.0"/>
<text x="414.60" y="461.43" font-size="7.5600000000000005" text-anchor="end" fill="#1e1e1e" transform="translate(414.60 461.43) scale(0.92 1) translate(-414.60 -461.43)" stroke="#1e1e1e" stroke-width="0.08">4000</text>
<line x1="418.30" y1="426.00" x2="421.20" y2="426.00" stroke="#231f20" stroke-width="1.0"/>
<text x="414.60" y="428.70" font-size="7.5600000000000005" text-anchor="end" fill="#1e1e1e" transform="translate(414.60 428.70) scale(0.92 1) translate(-414.60 -428.70)" stroke="#1e1e1e" stroke-width="0.08">6000</text>
<line x1="420.70" y1="524.20" x2="520.00" y2="524.20" stroke="#231f20" stroke-width="1.25"/>
<rect x="426.20" y="455.40" width="9.80" height="68.80" fill="#1c4e8e"/>
<rect x="439.05" y="464.40" width="9.80" height="59.80" fill="#d00a2c"/>
<rect x="451.90" y="448.10" width="9.80" height="76.10" fill="#1c4e8e"/>
<rect x="464.75" y="483.10" width="9.80" height="41.10" fill="#d00a2c"/>
<rect x="477.60" y="468.80" width="9.80" height="55.40" fill="#37b03b"/>
<rect x="490.45" y="481.20" width="9.80" height="43.00" fill="#62207a"/>
<rect x="503.30" y="486.90" width="9.80" height="37.30" fill="#62207a"/>
<line x1="431.10" y1="455.40" x2="431.10" y2="449.40" stroke="#231f20" stroke-width="0.8"/>
<line x1="429.10" y1="449.40" x2="433.10" y2="449.40" stroke="#231f20" stroke-width="0.8"/>
<line x1="443.95" y1="464.40" x2="443.95" y2="458.70" stroke="#231f20" stroke-width="0.8"/>
<line x1="441.95" y1="458.70" x2="445.95" y2="458.70" stroke="#231f20" stroke-width="0.8"/>
<line x1="456.80" y1="448.10" x2="456.80" y2="442.30" stroke="#231f20" stroke-width="0.8"/>
<line x1="454.80" y1="442.30" x2="458.80" y2="442.30" stroke="#231f20" stroke-width="0.8"/>
<line x1="469.65" y1="483.10" x2="469.65" y2="479.20" stroke="#231f20" stroke-width="0.8"/>
<line x1="467.65" y1="479.20" x2="471.65" y2="479.20" stroke="#231f20" stroke-width="0.8"/>
<line x1="482.50" y1="468.80" x2="482.50" y2="465.40" stroke="#231f20" stroke-width="0.8"/>
<line x1="480.50" y1="465.40" x2="484.50" y2="465.40" stroke="#231f20" stroke-width="0.8"/>
<line x1="495.35" y1="481.20" x2="495.35" y2="477.30" stroke="#231f20" stroke-width="0.8"/>
<line x1="493.35" y1="477.30" x2="497.35" y2="477.30" stroke="#231f20" stroke-width="0.8"/>
<line x1="508.20" y1="486.90" x2="508.20" y2="482.30" stroke="#231f20" stroke-width="0.8"/>
<line x1="506.20" y1="482.30" x2="510.20" y2="482.30" stroke="#231f20" stroke-width="0.8"/>
<circle cx="431.10" cy="437.50" r="1.0" fill="#111"/>
<circle cx="431.10" cy="459.49" r="1.0" fill="#111"/>
<circle cx="432.10" cy="463.58" r="1.0" fill="#111"/>
<circle cx="443.95" cy="453.30" r="1.0" fill="#111"/>
<circle cx="443.95" cy="468.49" r="1.0" fill="#111"/>
<circle cx="444.95" cy="472.58" r="1.0" fill="#111"/>
<circle cx="456.80" cy="436.50" r="1.0" fill="#111"/>
<circle cx="456.80" cy="452.19" r="1.0" fill="#111"/>
<circle cx="457.80" cy="456.28" r="1.0" fill="#111"/>
<circle cx="469.65" cy="479.80" r="1.0" fill="#111"/>
<circle cx="469.65" cy="487.19" r="1.0" fill="#111"/>
<circle cx="470.65" cy="491.28" r="1.0" fill="#111"/>
<circle cx="482.50" cy="461.00" r="1.0" fill="#111"/>
<circle cx="482.50" cy="472.89" r="1.0" fill="#111"/>
<circle cx="483.50" cy="476.98" r="1.0" fill="#111"/>
<circle cx="495.35" cy="475.40" r="1.0" fill="#111"/>
<circle cx="495.35" cy="485.29" r="1.0" fill="#111"/>
<circle cx="496.35" cy="489.38" r="1.0" fill="#111"/>
<circle cx="508.20" cy="475.40" r="1.0" fill="#111"/>
<circle cx="508.20" cy="490.99" r="1.0" fill="#111"/>
<circle cx="509.20" cy="495.08" r="1.0" fill="#111"/>
<line x1="431.10" y1="524.20" x2="431.10" y2="525.80" stroke="#231f20" stroke-width="0.7"/>
<line x1="443.95" y1="524.20" x2="443.95" y2="525.80" stroke="#231f20" stroke-width="0.7"/>
<line x1="456.80" y1="524.20" x2="456.80" y2="525.80" stroke="#231f20" stroke-width="0.7"/>
<line x1="469.65" y1="524.20" x2="469.65" y2="525.80" stroke="#231f20" stroke-width="0.7"/>
<line x1="482.50" y1="524.20" x2="482.50" y2="525.80" stroke="#231f20" stroke-width="0.7"/>
<line x1="495.35" y1="524.20" x2="495.35" y2="525.80" stroke="#231f20" stroke-width="0.7"/>
<line x1="508.20" y1="524.20" x2="508.20" y2="525.80" stroke="#231f20" stroke-width="0.7"/>
<text x="431.30" y="531.30" font-size="7.25" text-anchor="end" fill="#1e1e1e" stroke="#1e1e1e" stroke-width="0.08" transform="rotate(-45 431.30 531.30) translate(431.30 531.30) scale(0.98 1) translate(-431.30 -531.30)">veh</text>
<text x="444.15" y="531.30" font-size="7.25" text-anchor="end" fill="#1e1e1e" stroke="#1e1e1e" stroke-width="0.08" transform="rotate(-45 444.15 531.30) translate(444.15 531.30) scale(0.98 1) translate(-444.15 -531.30)">+GPVI agonist</text>
<text x="457.00" y="531.30" font-size="7.25" text-anchor="end" fill="#1e1e1e" stroke="#1e1e1e" stroke-width="0.08" transform="rotate(-45 457.00 531.30) translate(457.00 531.30) scale(0.98 1) translate(-457.00 -531.30)">+oxLDL</text>
<text x="469.85" y="531.30" font-size="7.25" text-anchor="end" fill="#1e1e1e" stroke="#1e1e1e" stroke-width="0.08" transform="rotate(-45 469.85 531.30) translate(469.85 531.30) scale(0.98 1) translate(-469.85 -531.30)">veh</text>
<text x="482.70" y="531.30" font-size="7.25" text-anchor="end" fill="#1e1e1e" stroke="#1e1e1e" stroke-width="0.08" transform="rotate(-45 482.70 531.30) translate(482.70 531.30) scale(0.98 1) translate(-482.70 -531.30)">+Ticagrelor</text>
<text x="495.55" y="531.30" font-size="7.25" text-anchor="end" fill="#1e1e1e" stroke="#1e1e1e" stroke-width="0.08" transform="rotate(-45 495.55 531.30) translate(495.55 531.30) scale(0.98 1) translate(-495.55 -531.30)">+Indomethacin</text>
<text x="508.40" y="531.30" font-size="7.25" text-anchor="end" fill="#1e1e1e" stroke="#1e1e1e" stroke-width="0.08" transform="rotate(-45 508.40 531.30) translate(508.40 531.30) scale(0.98 1) translate(-508.40 -531.30)">+Aspirin</text>
<line x1="442.50" y1="569.70" x2="511.10" y2="569.70" stroke="#6d6e71" stroke-width="1.4"/>
<text x="476.70" y="578.60" font-size="6.8" text-anchor="middle" fill="#1e1e1e" textLength="70.6" lengthAdjust="spacingAndGlyphs" stroke="#1e1e1e" stroke-width="0.08">+oxLDL + GPVI agonist</text>
<path d="M469,446.5 V443.7 H499.2 V455.4" stroke="#231f20" stroke-width="0.9" fill="none"/>
<text x="484.00" y="441.80" font-size="7.8" text-anchor="middle" font-weight="normal" font-style="italic" fill="#1e1e1e">ns</text>
<line x1="469.00" y1="455.40" x2="481.50" y2="455.40" stroke="#231f20" stroke-width="0.9"/>
<line x1="493.00" y1="455.40" x2="505.60" y2="455.40" stroke="#231f20" stroke-width="0.9"/>
<text x="475.20" y="455.30" font-size="6.2" text-anchor="middle" fill="#1e1e1e" stroke="#1e1e1e" stroke-width="0.08">*</text>
<text x="391.00" y="473.80" font-size="6.9" text-anchor="middle" fill="#1e1e1e" transform="rotate(-90 391.00 473.80)" textLength="43.2" lengthAdjust="spacingAndGlyphs" stroke="#1e1e1e" stroke-width="0.08">T - 1/2 Vmax (s)</text>
</svg>
</body></html>
